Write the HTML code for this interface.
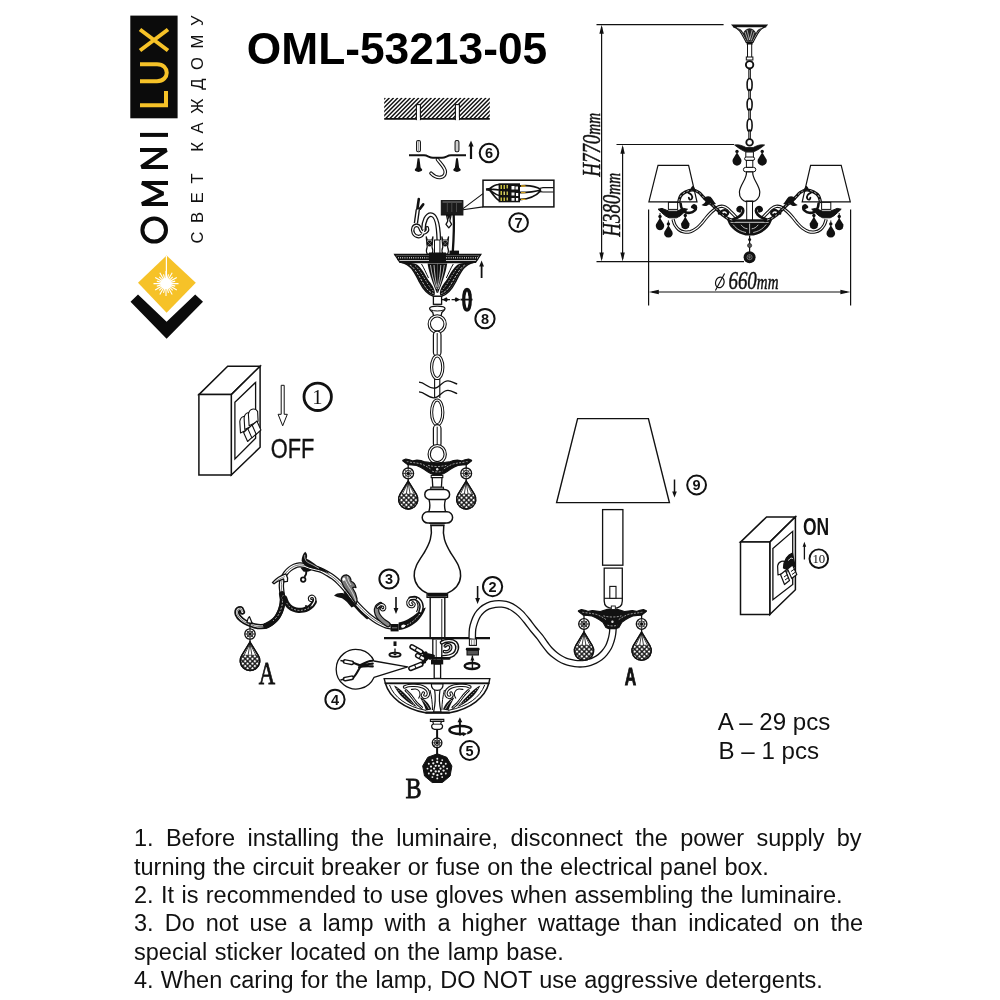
<!DOCTYPE html>
<html lang="en"><head><meta charset="utf-8"><title>OML-53213-05</title>
<style>
html,body{margin:0;padding:0;background:#fff;}
body{width:1000px;height:1000px;overflow:hidden;font-family:"Liberation Sans",sans-serif;}
svg{display:block;position:absolute;left:0;top:0;will-change:transform;}
svg text{white-space:pre;}
</style></head><body>
<svg width="1000" height="1000" viewBox="0 0 1000 1000">
<rect width="1000" height="1000" fill="#fff"/>
<defs>
<pattern id="hatch" width="3" height="3" patternUnits="userSpaceOnUse" patternTransform="rotate(45)">
<rect width="3" height="3" fill="#fff"/><rect width="1.45" height="3" fill="#111"/></pattern>
<pattern id="net" width="3.4" height="3.4" patternUnits="userSpaceOnUse" patternTransform="rotate(45)">
<rect width="3.4" height="3.4" fill="#111"/><rect x="0.7" y="0.7" width="2.1" height="2.1" fill="#fff"/></pattern>
<pattern id="net2" width="2.6" height="2.6" patternUnits="userSpaceOnUse" patternTransform="rotate(45)">
<rect width="2.6" height="2.6" fill="#222"/><rect x="0.7" y="0.7" width="1.5" height="1.5" fill="#eee"/></pattern>
<pattern id="rib" width="2" height="4" patternUnits="userSpaceOnUse">
<rect width="2" height="4" fill="#111"/><rect x="0.6" width="0.8" height="4" fill="#bbb"/></pattern>
</defs>
<rect x="130.3" y="15.6" width="47.3" height="102.7" fill="#0b0b0b"/>
<g fill="none" stroke="#F6C228" stroke-width="4.0" stroke-linecap="butt" stroke-linejoin="miter">
<path d="M140,105.3 H166 V91"/>
<path d="M140,81.2 H157 C170,81.2 170,64.2 157,64.2 H140"/>
<path d="M140,29.5 L168,50.5 M140,50.5 L168,29.5"/>
</g>
<g fill="none" stroke="#0b0b0b" stroke-width="4" stroke-linejoin="miter" stroke-miterlimit="2">
<path d="M140,134.9 H168"/>
<path d="M168,167 H141.5 L166.5,150 H140"/>
<path d="M168,204 H142 L163,193.5 L142,183 H168"/>
<ellipse cx="154.2" cy="230" rx="11.8" ry="11.6"/>
</g>
<text transform="translate(203,243.5) rotate(-90)" font-family="Liberation Sans, sans-serif" font-size="16.6" textLength="228" lengthAdjust="spacing" fill="#111">СВЕТ КАЖДОМУ</text>
<polygon points="166.6,255.5 195.8,282.8 166.6,312.7 138,282.8" fill="#F6C228"/>
<path d="M166.0,283.6 L178.5,283.6 M166.0,283.6 L175.2,286.1 M166.0,283.6 L176.8,289.9 M166.0,283.6 L172.7,290.3 M166.0,283.6 L172.2,294.4 M166.0,283.6 L168.5,292.8 M166.0,283.6 L166.0,296.1 M166.0,283.6 L163.5,292.8 M166.0,283.6 L159.8,294.4 M166.0,283.6 L159.3,290.3 M166.0,283.6 L155.2,289.9 M166.0,283.6 L156.8,286.1 M166.0,283.6 L153.5,283.6 M166.0,283.6 L156.8,281.1 M166.0,283.6 L155.2,277.4 M166.0,283.6 L159.3,276.9 M166.0,283.6 L159.8,272.8 M166.0,283.6 L163.5,274.4 M166.0,283.6 L166.0,271.1 M166.0,283.6 L168.5,274.4 M166.0,283.6 L172.2,272.8 M166.0,283.6 L172.7,276.9 M166.0,283.6 L176.8,277.4 M166.0,283.6 L175.2,281.1" stroke="#fff" stroke-width="1.1" fill="none"/>
<circle cx="166" cy="283.6" r="5.6" fill="#fff"/>
<path d="M166.4,256 V280" stroke="#fff" stroke-width="1.2"/>
<polygon points="130.5,301.7 138,294.5 166.6,321.8 195.2,294.5 203,301.7 166.6,338.7" fill="#0b0b0b"/>
<text x="246.800" y="64.200" font-family="Liberation Sans, sans-serif" font-weight="bold" font-size="44.300" fill="#000">OML-53213-05</text>
<clipPath id="ceilclip"><rect x="384.2" y="97.8" width="105.6" height="21.4"/></clipPath>
<path d="M364.20,118.9 L385.30,97.8 M368.40,118.9 L389.50,97.8 M372.60,118.9 L393.70,97.8 M376.80,118.9 L397.90,97.8 M381.00,118.9 L402.10,97.8 M385.20,118.9 L406.30,97.8 M389.40,118.9 L410.50,97.8 M393.60,118.9 L414.70,97.8 M397.80,118.9 L418.90,97.8 M402.00,118.9 L423.10,97.8 M406.20,118.9 L427.30,97.8 M410.40,118.9 L431.50,97.8 M414.60,118.9 L435.70,97.8 M418.80,118.9 L439.90,97.8 M423.00,118.9 L444.10,97.8 M427.20,118.9 L448.30,97.8 M431.40,118.9 L452.50,97.8 M435.60,118.9 L456.70,97.8 M439.80,118.9 L460.90,97.8 M444.00,118.9 L465.10,97.8 M448.20,118.9 L469.30,97.8 M452.40,118.9 L473.50,97.8 M456.60,118.9 L477.70,97.8 M460.80,118.9 L481.90,97.8 M465.00,118.9 L486.10,97.8 M469.20,118.9 L490.30,97.8 M473.40,118.9 L494.50,97.8 M477.60,118.9 L498.70,97.8 M481.80,118.9 L502.90,97.8 M486.00,118.9 L507.10,97.8" stroke="#111" stroke-width="1.45" fill="none" clip-path="url(#ceilclip)"/>
<rect x="416.4" y="104.6" width="4" height="15" fill="#fff" stroke="#111" stroke-width="1.1"/>
<rect x="416.9" y="117.6" width="3" height="3.2" fill="#fff"/>
<rect x="455.4" y="104.6" width="4" height="15" fill="#fff" stroke="#111" stroke-width="1.1"/>
<rect x="455.9" y="117.6" width="3" height="3.2" fill="#fff"/>
<path d="M384.2,118.9 H416.4 M420.4,118.9 H455.4 M459.4,118.900 H489.800" stroke="#111" stroke-width="1.600"/>
<path d="M409,155.3 H424 C428,155.3 429,157.8 433,157.8 H442 C446,157.8 447,155.3 451,155.3 H466" stroke="#111" stroke-width="1.9" fill="none"/>
<rect x="416.6" y="140.5" width="3.8" height="11.3" rx="1.5" fill="#fff" stroke="#111" stroke-width="1.1"/>
<path d="M418.5,140.8 V151.5" stroke="#777" stroke-width="0.7"/>
<path d="M417.6,158.3 H419.4 L420.6,167.6 L422.2,169.6 Q422.4,171.6 418.5,172 Q414.6,171.600 414.8,169.600 L416.4,167.600 Z" fill="#111"/>
<rect x="455.1" y="140.5" width="3.8" height="11.3" rx="1.5" fill="#fff" stroke="#111" stroke-width="1.1"/>
<path d="M457,140.8 V151.5" stroke="#777" stroke-width="0.7"/>
<path d="M456.1,158.3 H457.9 L459.1,167.6 L460.7,169.6 Q460.9,171.6 457,172 Q453.1,171.600 453.3,169.600 L454.9,167.600 Z" fill="#111"/>
<path d="M437.5,159.5 C440,163 445.5,168 445.3,172 C445,178.5 437,179.5 431,173.2" stroke="#111" stroke-width="3.6" fill="none" stroke-linecap="round"/>
<path d="M437.5,159.5 C440,163 445.5,168 445.3,172 C445,178.5 437,179.5 431,173.2" stroke="#fff" stroke-width="1.5" fill="none" stroke-linecap="round"/>
<path d="M471,159 V144.1" stroke="#111" stroke-width="2.2" fill="none"/><polygon points="471,140.5 468.4,146.5 473.6,146.5" fill="#111"/>
<circle cx="489" cy="153" r="9.3" fill="#fff" stroke="#111" stroke-width="2.0"/><text x="489" y="158.2" text-anchor="middle" font-family="Liberation Sans, sans-serif" font-weight="bold" font-size="14.5" fill="#111">6</text>
<rect x="483" y="180.200" width="70.900" height="26.700" fill="#fff" stroke="#111" stroke-width="1.500"/>
<path d="M486,189.5 L490,188.5 C494,185 497,184.5 499,184.5 M490,189.5 C494,189 497,189.5 499,190 M490,190.5 C494,196 497,199.5 499,200.5 M489,190 C493,192 496,195 499,195.5" stroke="#111" stroke-width="1.7" fill="none"/>
<path d="M486,188.6 L490.5,187.8 L490.5,191.3 L486,190.5 Z" fill="#111"/>
<rect x="498.6" y="183.3" width="21.4" height="19" fill="#111"/>
<rect x="500.5" y="185" width="1.5" height="4" fill="#c8c040"/>
<rect x="503.5" y="185" width="1.5" height="4" fill="#c8c040"/>
<rect x="506.5" y="185" width="1.5" height="3.5" fill="#bdb84a"/>
<rect x="500.5" y="191" width="1.5" height="4" fill="#c8c040"/>
<rect x="503.5" y="191.5" width="1.5" height="3.5" fill="#d8d070"/>
<rect x="506.5" y="191.5" width="1.5" height="3.5" fill="#bdb84a"/>
<rect x="500.5" y="197.5" width="1.5" height="3.5" fill="#c8c040"/>
<rect x="503.5" y="197.5" width="1.5" height="3.5" fill="#c8c040"/>
<rect x="506.5" y="197.5" width="1.5" height="3" fill="#bdb84a"/>
<rect x="511.5" y="186" width="3" height="3.5" fill="#fff"/>
<rect x="515.5" y="186.5" width="2.5" height="3" fill="#eee"/>
<rect x="511.5" y="192.5" width="3" height="3" fill="#eee"/>
<rect x="516" y="193" width="2.2" height="3" fill="#fff"/>
<rect x="511.5" y="198" width="3" height="2.8" fill="#eee"/>
<rect x="516" y="198" width="2.2" height="2.8" fill="#fff"/>
<path d="M520,186 C530,185 536,186.5 541,189.5 M520,192.5 C530,192.5 536,191.5 541,190 M520,199.5 C530,199 537,195 541,190.5" stroke="#111" stroke-width="1.8" fill="none"/>
<path d="M521,186 H525.5 M521,192.6 H525.5 M521,199.4 H525.5" stroke="#d9a520" stroke-width="1.4"/>
<path d="M540,188.3 L543,187.6 H553.5 M540,191.6 L543,192 H553.5" stroke="#111" stroke-width="1.1" fill="none"/>
<rect x="441.3" y="200.6" width="21.6" height="14.4" fill="#1a1a1a" stroke="#111" stroke-width="1"/>
<path d="M442.5,202 H461.8" stroke="#999" stroke-width="0.8"/>
<path d="M447.3,203 V212 M451.8,203 V212 M456.5,203 V212" stroke="#555" stroke-width="0.8"/>
<path d="M463,208.600 L483,193.600 M463,209.800 L483,206.900" stroke="#111" stroke-width="1.1" fill="none"/>
<circle cx="518.6" cy="222.5" r="9.3" fill="#fff" stroke="#111" stroke-width="2.0"/><text x="518.6" y="227.7" text-anchor="middle" font-family="Liberation Sans, sans-serif" font-weight="bold" font-size="14.5" fill="#111">7</text>
<path d="M446.6,215.4 H451 L449.8,221 L451.600,224.400 L448.800,227.800 L446,224.400 L447.800,221 Z" fill="#fff" stroke="#111" stroke-width="1.300" stroke-linejoin="round"/>
<path d="M447.200,216 H450.400 L448.800,220 Z" fill="#111"/>
<path d="M453.700,215 C454.300,228 453.600,240 452.800,251.400" stroke="#111" stroke-width="2.300" fill="none"/>
<path d="M418.8,199 L417.3,209.4 M423.2,204.4 L420,208.6" stroke="#111" stroke-width="2.6" fill="none" stroke-linecap="round"/>
<path d="M417.8,209.6 L415.9,223.4" stroke="#111" stroke-width="4.4" fill="none" stroke-linecap="butt" stroke-linejoin="round"/><path d="M417.8,209.6 L415.9,223.4" stroke="#fff" stroke-width="1.7" fill="none" stroke-linecap="butt" stroke-linejoin="round"/>
<path d="M424.2,226.500 C424.200,231 423,236.800 418.600,236.600 C413.500,236.400 411.600,231 413.200,227.600 C414.600,224.600 418.600,224.600 419.800,227.600 C420.800,230.500 422.500,233.500 425,232.600 C427.200,231.600 427.800,229.500 427.200,227.800" stroke="#111" stroke-width="3.6" fill="none" stroke-linecap="round" stroke-linejoin="round"/><path d="M424.2,226.500 C424.200,231 423,236.800 418.600,236.600 C413.500,236.400 411.600,231 413.200,227.600 C414.600,224.600 418.600,224.600 419.800,227.600 C420.800,230.500 422.500,233.500 425,232.600 C427.200,231.600 427.800,229.500 427.200,227.800" stroke="#fff" stroke-width="1.3" fill="none" stroke-linecap="round" stroke-linejoin="round"/>
<path d="M423.400,229.500 C423.600,221 426.800,214.600 430.800,214.600 C436.200,214.600 438.400,224 438.800,240" stroke="#111" stroke-width="4.8" fill="none" stroke-linecap="butt" stroke-linejoin="round"/><path d="M423.400,229.500 C423.600,221 426.800,214.600 430.800,214.600 C436.200,214.600 438.400,224 438.800,240" stroke="#fff" stroke-width="2.2" fill="none" stroke-linecap="butt" stroke-linejoin="round"/>
<path d="M426.20000000000005,236.5 L427.20000000000005,240 L432.0,240 L433.0,236.5 L432.0,247 Q433.6,251 432.0,254 H427.20000000000005 Q425.6,251 427.20000000000005,247 Z" fill="#fff" stroke="#111" stroke-width="1.2"/>
<circle cx="429.6" cy="243.600" r="2.900" fill="#111"/>
<path d="M427.40000000000003,241.4 L431.8,245.8 M431.8,241.4 L427.40000000000003,245.8" stroke="#888" stroke-width="0.6"/>
<path d="M441.8,236.5 L442.8,240 L447.59999999999997,240 L448.59999999999997,236.5 L447.59999999999997,247 Q449.2,251 447.59999999999997,254 H442.8 Q441.2,251 442.8,247 Z" fill="#fff" stroke="#111" stroke-width="1.2"/>
<circle cx="445.2" cy="243.600" r="2.900" fill="#111"/>
<path d="M443.0,241.4 L447.4,245.8 M447.4,241.4 L443.0,245.8" stroke="#888" stroke-width="0.6"/>
<rect x="434.5" y="240" width="5.4" height="15" fill="#fff" stroke="#111" stroke-width="1"/>
<rect x="449.5" y="250.6" width="9.5" height="3.8" fill="#111"/>
<path d="M394.7,254.4 H480.8 L475.6,262.4 H399.9 Z" fill="#fff" stroke="#111" stroke-width="1.3" stroke-linejoin="miter"/>
<path d="M394.7,254.9 H480.8" stroke="#111" stroke-width="1.8"/>
<rect x="397" y="256" width="81.500" height="3.400" fill="#111"/>
<path d="M398,257.700 H478" stroke="#fff" stroke-width="1.600" stroke-dasharray="0.700 1.500"/>
<path d="M397.6,259.6 H477.8" stroke="#111" stroke-width="1.1"/>
<path d="M399.5,261.6 H476" stroke="#111" stroke-width="1.4"/>
<rect x="429" y="252.5" width="17" height="10" fill="#111"/>
<path d="M401.5,262.4 C411,264 414.5,272 419.5,282 C423.5,290 428,295 434,296.5 H441 C447,295 451.500,290 455.500,282 C460.500,272 464,264 473.500,262.400 Z" fill="#fff" stroke="#111" stroke-width="1.5"/>
<path d="M404.5,263.2 C411.5,265 415.0,272 420.0,282 C424.0,290 428.5,294.6 434.5,295.6 C436.0,291 433.0,286 429.0,281 C425.0,275 422.0,268 417.0,264.5 C413.0,262.600 408.0,262.800 404.5,263.200 Z" fill="#111"/>
<path d="M410.0,265 C415.5,268.5 419.5,277 424.5,285.5 C427.0,289.5 430.0,292.500 433.5,293.500" stroke="#ccc" stroke-width="0.9" fill="none" stroke-dasharray="2.4 1.2"/>
<path d="M415.0,265.500 C420.0,270 424.0,278 428.5,285 C430.5,288 432.5,290 434.0,292" stroke="#ccc" stroke-width="0.8" fill="none" stroke-dasharray="1.6 1.4"/>
<path d="M427.6,263.4 C428.5,270 431.0,279 436.8,293 L437.4,293 L437.4,263.400 Z" fill="#111"/>
<path d="M430.5,265 C431.5,273 433.5,281 436.5,289 M434.0,265 C434.5,273 435.5,281 437.0,287" stroke="#ddd" stroke-width="0.800" fill="none"/>
<path d="M421.5,264 C424.0,268 426.0,273 428.5,278" stroke="#111" stroke-width="1" fill="none"/>
<path d="M470.3,263.2 C463.3,265 459.8,272 454.8,282 C450.8,290 446.3,294.6 440.3,295.6 C438.8,291 441.8,286 445.8,281 C449.8,275 452.8,268 457.8,264.5 C461.8,262.600 466.8,262.800 470.3,263.200 Z" fill="#111"/>
<path d="M464.8,265 C459.3,268.5 455.3,277 450.3,285.5 C447.8,289.5 444.8,292.500 441.3,293.500" stroke="#ccc" stroke-width="0.9" fill="none" stroke-dasharray="2.4 1.2"/>
<path d="M459.8,265.500 C454.8,270 450.8,278 446.3,285 C444.3,288 442.3,290 440.8,292" stroke="#ccc" stroke-width="0.8" fill="none" stroke-dasharray="1.6 1.4"/>
<path d="M447.2,263.4 C446.3,270 443.8,279 438.0,293 L437.4,293 L437.4,263.400 Z" fill="#111"/>
<path d="M444.3,265 C443.3,273 441.3,281 438.3,289 M440.8,265 C440.3,273 439.3,281 437.8,287" stroke="#ddd" stroke-width="0.800" fill="none"/>
<path d="M453.3,264 C450.8,268 448.8,273 446.3,278" stroke="#111" stroke-width="1" fill="none"/>
<path d="M481.6,278 V264.1" stroke="#111" stroke-width="1.8" fill="none"/><polygon points="481.6,260.5 479.20000000000005,266.5 484.0,266.5" fill="#111"/>
<rect x="433.4" y="296.3" width="8.2" height="8" fill="#fff" stroke="#111" stroke-width="1.3"/>
<path d="M429.600,308.600 C429.600,305.400 445,305.400 445,308.600 C445,310.600 442.600,311.200 441.800,312.600 L441,316.200 H433.600 L432.800,312.600 C432,311.200 429.600,310.600 429.600,308.600 Z" fill="#fff" stroke="#111" stroke-width="1.300"/>
<path d="M430.400,309.800 C434,311.400 440.600,311.400 444.200,309.800" stroke="#111" stroke-width="1" fill="none"/>
<path d="M442,299.6 H461" stroke="#111" stroke-width="1.4" stroke-dasharray="3.2 1.6"/>
<path d="M442.300,299.600 l4.200,-2.400 l1.600,2.400 l-1.600,2.400 Z M460,299.600 l-4.200,-2.400 l-1.600,2.400 l1.600,2.400 Z" fill="#111"/>
<ellipse cx="467" cy="299.8" rx="3.3" ry="10.4" fill="none" stroke="#111" stroke-width="3.2"/>
<path d="M460.5,299.6 H472.5" stroke="#111" stroke-width="1.8"/>
<path d="M468.5,292 l3,2.2 l-3.3,1.6 Z" fill="#111"/>
<circle cx="485" cy="318.7" r="9.6" fill="#fff" stroke="#111" stroke-width="2.0"/><text x="485" y="323.9" text-anchor="middle" font-family="Liberation Sans, sans-serif" font-weight="bold" font-size="14.5" fill="#111">8</text>
<ellipse cx="437.2" cy="324" rx="7.9" ry="8.1" fill="none" stroke="#111" stroke-width="3.4"/>
<ellipse cx="437.2" cy="324" rx="7.9" ry="8.1" fill="none" stroke="#fff" stroke-width="1.3"/>
<rect x="433.4" y="331.1" width="7.6" height="25" rx="3.8" fill="#fff" stroke="#111" stroke-width="1.2"/><path d="M437.2,333.1 V354.1" stroke="#111" stroke-width="1"/>
<ellipse cx="437.2" cy="367.2" rx="5.6" ry="11.3" fill="none" stroke="#111" stroke-width="3.2"/><ellipse cx="437.2" cy="367.2" rx="5.6" ry="11.3" fill="none" stroke="#fff" stroke-width="1.2"/>
<rect x="428" y="381.5" width="19" height="13" fill="#fff"/>
<path d="M434.59999999999997,379 V398 M439.8,379 V398" stroke="#111" stroke-width="1.1"/>
<path d="M419,382.2 C425,382.5 428,388.4 434,388.200 C440,388 442,380.600 448,380.800 C452,381 454,383.200 457.200,384" stroke="#111" stroke-width="1.300" fill="none"/>
<path d="M419,391.800 C425,392.100 428,398 434,397.800 C440,397.600 442,390.200 448,390.400 C452,390.600 454,392.800 457.200,393.600" stroke="#111" stroke-width="1.300" fill="none"/>
<ellipse cx="437.2" cy="412.4" rx="5.6" ry="12.4" fill="none" stroke="#111" stroke-width="3.2"/><ellipse cx="437.2" cy="412.4" rx="5.6" ry="12.4" fill="none" stroke="#fff" stroke-width="1.2"/>
<rect x="433.4" y="424.7" width="7.6" height="22.6" rx="3.8" fill="#fff" stroke="#111" stroke-width="1.2"/><path d="M437.2,426.7 V445.3" stroke="#111" stroke-width="1"/>
<ellipse cx="437.2" cy="454.2" rx="8" ry="8.6" fill="#fff" stroke="#111" stroke-width="3.4"/>
<ellipse cx="437.2" cy="454.2" rx="8" ry="8.6" fill="none" stroke="#fff" stroke-width="1.2"/>
<path d="M402.8,460.3 L405.8,459.1 L409.4,459.7 L412.9,460.9 L417.0,460.1 L421.0,460.5 L425.1,461.9 L429.1,462.3 L433.2,462.5 L437.2,462.9 L441.2,462.5 L445.3,462.3 L449.3,461.9 L453.4,460.5 L457.4,460.1 L461.5,460.9 L465.0,459.7 L468.6,459.1 L471.6,460.3 L471.6,460.9 L469.1,462.9 L466.5,464.7 L462.5,464.9 L457.8,465.5 L453.9,467.3 L450.4,469.3 L446.8,471.7 L443.8,473.4 L441.2,474.6 L437.2,474.6 L433.2,474.6 L430.6,473.4 L427.6,471.7 L424.0,469.3 L420.5,467.3 L416.6,465.5 L411.9,464.9 L407.9,464.7 L405.3,462.9 L402.8,460.9 Z" fill="#111" stroke="#111" stroke-width="1.1" stroke-linejoin="round"/>
<path d="M406.8,461.7 C410.9,462.5 416.0,462.7 421.0,463.90000000000003 C425.1,465.3 428.1,467.3 431.1,469.3 M467.6,461.7 C463.5,462.5 458.4,462.7 453.4,463.90000000000003 C449.3,465.3 446.3,467.3 443.3,469.3 M428.1,465.3 C433.2,466.90000000000003 441.2,466.90000000000003 446.3,465.3 M432.1,471.20000000000005 C435.2,472.20000000000005 439.2,472.20000000000005 442.3,471.20000000000005" stroke="#bbb" stroke-width="0.8" fill="none" stroke-dasharray="2 1.3"/>
<circle cx="437.2" cy="469.2" r="1.2" fill="#ddd"/>
<rect x="431.200" y="475.400" width="11.600" height="2.200" fill="#fff" stroke="#111" stroke-width="1.100"/>
<path d="M432.200,477.600 L432.800,487.400 H441.400 L442,477.600 Z" fill="#fff" stroke="#111" stroke-width="1.300"/>
<rect x="430.800" y="487.200" width="12.600" height="2" fill="#fff" stroke="#111" stroke-width="1.100"/>
<rect x="424.8" y="489.4" width="24.8" height="10" rx="5" fill="#fff" stroke="#111" stroke-width="1.5"/>
<path d="M429,499.6 H445.4 C444.4,503 444.4,508 445.6,511.6 H428.8 C430,508 430,503 429,499.6 Z" fill="#fff" stroke="#111" stroke-width="1.4"/>
<rect x="422.2" y="511.8" width="30.4" height="11.2" rx="5.6" fill="#fff" stroke="#111" stroke-width="1.5"/>
<path d="M429,523.4 H445.6 M430,525 H444.6" stroke="#111" stroke-width="1"/>
<path d="M431,525.4 C432.5,536 430,543 424,553 C418,562 413.8,568 414.2,576 C414.8,585 421,590.5 428,593.6 H446.6 C453.6,590.5 460.2,585 460.6,576 C461,568 456.8,562 450.8,553 C444.8,543 442.3,536 443.8,525.4 Z" fill="#fff" stroke="#111" stroke-width="1.5"/>
<path d="M427,594 H447.6 V597.4 H427 Z" fill="#fff" stroke="#111" stroke-width="1.2"/>
<path d="M429,595.7 H445.6" stroke="#111" stroke-width="0.8"/>
<rect x="430.2" y="597.4" width="14.6" height="41" fill="#fff" stroke="#111" stroke-width="1.4"/>
<path d="M427.4,595.2 H447.6" stroke="#111" stroke-width="2.6"/>
<path d="M441.8,599 V637" stroke="#111" stroke-width="0.9"/>
<path d="M408.2,462.0 V481" stroke="#111" stroke-width="1.3"/>
<circle cx="408.2" cy="473.4" r="5.4" fill="#fff" stroke="#111" stroke-width="1.3"/><path d="M402.8,473.4 H413.59999999999997 M408.2,468.0 V478.79999999999995 M404.38,469.58 L412.02,477.22 M404.38,477.22 L412.02,469.58" stroke="#111" stroke-width="0.75" fill="none"/><circle cx="408.2" cy="473.4" r="3.13" fill="none" stroke="#111" stroke-width="0.8"/><circle cx="408.2" cy="473.4" r="1.5" fill="#111"/>
<path d="M408.2,481 L416.39,494.39 A9.6,9.6 0 1 1 400.01,494.39 Z" fill="#fff" stroke="#111" stroke-width="1.3"/>
<path d="M398.70,498.44 A9.6,9.6 0 1 0 417.70,498.44 L415.11,493.45 L401.29,493.45 Z" fill="url(#net)"/>
<path d="M408.2,482.5 L402.25,494.12 M408.2,482.5 L406.28,494.12 M408.2,482.5 L410.12,494.12 M408.2,482.5 L414.15,494.12" stroke="#111" stroke-width="0.8" fill="none"/>
<path d="M408.2,481 L416.39,494.39 A9.6,9.6 0 1 1 400.01,494.39 Z" fill="none" stroke="#111" stroke-width="1.4"/>
<path d="M466.2,462.0 V481" stroke="#111" stroke-width="1.3"/>
<circle cx="466.2" cy="473.4" r="5.4" fill="#fff" stroke="#111" stroke-width="1.3"/><path d="M460.8,473.4 H471.59999999999997 M466.2,468.0 V478.79999999999995 M462.38,469.58 L470.02,477.22 M462.38,477.22 L470.02,469.58" stroke="#111" stroke-width="0.75" fill="none"/><circle cx="466.2" cy="473.4" r="3.13" fill="none" stroke="#111" stroke-width="0.8"/><circle cx="466.2" cy="473.4" r="1.5" fill="#111"/>
<path d="M466.2,481 L474.39,494.39 A9.6,9.6 0 1 1 458.01,494.39 Z" fill="#fff" stroke="#111" stroke-width="1.3"/>
<path d="M456.70,498.44 A9.6,9.6 0 1 0 475.70,498.44 L473.11,493.45 L459.29,493.45 Z" fill="url(#net)"/>
<path d="M466.2,482.5 L460.25,494.12 M466.2,482.5 L464.28,494.12 M466.2,482.5 L468.12,494.12 M466.2,482.5 L472.15,494.12" stroke="#111" stroke-width="0.8" fill="none"/>
<path d="M466.2,481 L474.39,494.39 A9.6,9.6 0 1 1 458.01,494.39 Z" fill="none" stroke="#111" stroke-width="1.4"/>
<path d="M384,638.2 H490" stroke="#111" stroke-width="2.2"/>
<rect x="432.8" y="639" width="9" height="21.5" fill="#fff" stroke="#111" stroke-width="1.3"/>
<path d="M436.2,640 V660" stroke="#111" stroke-width="0.9"/>
<rect x="434.2" y="664" width="6.4" height="14.4" fill="#fff" stroke="#111" stroke-width="1.3"/>
<rect x="431" y="660" width="12.2" height="4.4" fill="#111"/>
<path d="M441.8,642.6 C445,640.4 452,639.6 455.4,642.8 C458.4,646 457.4,651.6 453.6,654.400 C450.600,656.400 446.500,657 443,657" stroke="#111" stroke-width="4.2" fill="none" stroke-linecap="round"/>
<path d="M441.8,642.6 C445,640.4 452,639.6 455.4,642.8 C458.4,646 457.4,651.6 453.6,654.400 C450.600,656.400 446.500,657 443,657" stroke="#fff" stroke-width="1.3" fill="none" stroke-linecap="round"/>
<path d="M444.4,651.6 C447.4,652.400 451,650.400 450.800,647.200 C450.600,644.200 446.800,643.600 445.200,646" stroke="#111" stroke-width="3.4" fill="none" stroke-linecap="round"/>
<path d="M444.4,651.6 C447.4,652.400 451,650.400 450.800,647.200 C450.600,644.200 446.800,643.600 445.200,646" stroke="#fff" stroke-width="1" fill="none" stroke-linecap="round"/>
<path d="M429.800,658.400 H449.200" stroke="#111" stroke-width="2.600" stroke-linecap="round"/>
<path d="M433.400,656 L427,654.600 L421.400,652 M428,655.200 L424,658.600 M429,656.500 C426,659 423.500,662 421.200,664.400 M426,653 L423.500,657 L424.500,662" stroke="#111" stroke-width="3.200" fill="none" stroke-linejoin="round" stroke-linecap="round"/>
<path d="M412,646.8 L420.8,651.8" stroke="#111" stroke-width="5.400" stroke-linecap="round"/>
<path d="M412,646.8 L420.8,651.8" stroke="#fff" stroke-width="2.400" stroke-linecap="round"/>
<path d="M414.9,651.0 L417.0,647.1" stroke="#111" stroke-width="1.100"/>
<path d="M410.8,668.4 L420.8,664.4" stroke="#111" stroke-width="5.400" stroke-linecap="round"/>
<path d="M410.8,668.4 L420.8,664.4" stroke="#fff" stroke-width="2.400" stroke-linecap="round"/>
<path d="M416.1,668.6 L414.5,664.6" stroke="#111" stroke-width="1.100"/>
<path d="M417.6,655.6 L423,658.4" stroke="#111" stroke-width="5.400" stroke-linecap="round"/>
<path d="M417.6,655.6 L423,658.4" stroke="#fff" stroke-width="2.400" stroke-linecap="round"/>
<path d="M419.0,658.8 L421.0,654.9" stroke="#111" stroke-width="1.100"/>
<rect x="393.500" y="641.400" width="3" height="4.600" fill="#111"/>
<path d="M395,648.500 V654" stroke="#111" stroke-width="1.300"/>
<ellipse cx="395" cy="654.800" rx="5.600" ry="2.100" fill="#fff" stroke="#111" stroke-width="1.900"/>
<ellipse cx="395" cy="654.600" rx="1.600" ry="0.800" fill="#111"/>
<rect x="469.400" y="639" width="7" height="6.400" fill="#fff" stroke="#111" stroke-width="1.100"/>
<path d="M471.600,640 V645 M474.200,640 V645" stroke="#555" stroke-width="0.700"/>
<rect x="465.800" y="647.800" width="13.800" height="2.600" rx="1.200" fill="#111"/>
<rect x="467" y="650.400" width="11.400" height="4.600" fill="url(#rib)" stroke="#111" stroke-width="1"/>
<path d="M472.400,655.400 V669.500" stroke="#111" stroke-width="1.400"/>
<path d="M472.400,656 l-2,4.400 h4 Z" fill="#111"/>
<ellipse cx="472" cy="666" rx="7.400" ry="3" fill="none" stroke="#111" stroke-width="2.300"/>
<path d="M384.200,678.600 H489.800 L488.800,683.400 H385.400 Z" fill="#fff" stroke="#111" stroke-width="1.400"/>
<path d="M385.400,683.400 C389.500,697.500 404,708.500 425.500,712.800 H449.800 C471,708.500 485,697.500 488.800,683.400 Z" fill="#fff" stroke="#111" stroke-width="1.600"/>
<path d="M389.500,685 C394,697 406,706.500 426,710.400 M484.700,685 C480.200,697 468.200,706.500 448.200,710.400" stroke="#111" stroke-width="1" fill="none"/>
<path d="M394.0,685.400 C399.0,687.500 409.0,697 417.0,707 C408.0,703.500 398.5,695 394.0,685.400 Z" fill="#111"/>
<path d="M396.5,688 C402.0,694 408.0,700 414.5,705" stroke="#ccc" stroke-width="0.800" fill="none" stroke-dasharray="1.600 1.200"/>
<path d="M404.5,687.0 C405.2,686.8 406.9,685.9 408.5,685.6 C410.1,685.3 412.1,685.3 414.0,685.4 C415.9,685.5 418.2,685.6 420.0,686.0 C421.8,686.4 423.7,687.1 425.0,688.0 C426.3,688.9 427.5,690.2 428.0,691.5 C428.5,692.8 428.5,694.5 428.0,695.5 C427.5,696.5 425.9,697.5 425.0,697.5 C424.1,697.5 422.7,696.4 422.4,695.6 C422.1,694.9 423.2,693.4 423.4,693.0" stroke="#111" stroke-width="3.400" fill="none" stroke-linecap="round"/>
<path d="M404.5,687.0 C405.2,686.8 406.9,685.9 408.5,685.6 C410.1,685.3 412.1,685.3 414.0,685.4 C415.9,685.5 418.2,685.6 420.0,686.0 C421.8,686.4 423.7,687.1 425.0,688.0 C426.3,688.9 427.5,690.2 428.0,691.5 C428.5,692.8 428.5,694.5 428.0,695.5 C427.5,696.5 425.9,697.5 425.0,697.5 C424.1,697.5 422.7,696.4 422.4,695.6 C422.1,694.9 423.2,693.4 423.4,693.0" stroke="#fff" stroke-width="1.300" fill="none" stroke-linecap="round"/>
<path d="M406.0,690.5 C406.7,691.2 408.8,693.1 410.0,694.5 C411.2,695.9 412.3,697.5 413.5,699.0 C414.7,700.5 415.7,702.1 417.0,703.5 C418.3,704.9 420.8,706.8 421.5,707.5" stroke="#111" stroke-width="2.800" fill="none" stroke-linecap="round"/>
<path d="M406.0,690.5 C406.7,691.2 408.8,693.1 410.0,694.5 C411.2,695.9 412.3,697.5 413.5,699.0 C414.7,700.5 415.7,702.1 417.0,703.5 C418.3,704.9 420.8,706.8 421.5,707.5" stroke="#fff" stroke-width="1" fill="none" stroke-linecap="round"/>
<path d="M411.0,689.5 C411.8,689.4 414.2,688.8 415.5,689.0 C416.8,689.2 418.2,690.0 419.0,691.0 C419.8,692.0 420.1,693.8 420.0,695.0 C419.9,696.2 418.8,697.9 418.5,698.5" stroke="#111" stroke-width="1.100" fill="none"/>
<path d="M420.0,697.500 C424.0,698.500 429.0,703 431.5,709.500 L426.0,710.500 C424.5,705.500 422.0,701 420.0,697.500 Z" fill="#111"/>
<path d="M422.5,700 C425.5,703 427.5,706 429.0,709" stroke="#ccc" stroke-width="0.800" fill="none"/>
<path d="M430.0,690 C431.5,696 432.5,703 432.5,710" stroke="#111" stroke-width="1" fill="none"/>
<path d="M480.4,685.400 C475.4,687.500 465.4,697 457.4,707 C466.4,703.500 475.9,695 480.4,685.400 Z" fill="#111"/>
<path d="M477.9,688 C472.4,694 466.4,700 459.9,705" stroke="#ccc" stroke-width="0.800" fill="none" stroke-dasharray="1.600 1.200"/>
<path d="M469.9,687.0 C469.2,686.8 467.5,685.9 465.9,685.6 C464.3,685.3 462.3,685.3 460.4,685.4 C458.5,685.5 456.2,685.6 454.4,686.0 C452.6,686.4 450.7,687.1 449.4,688.0 C448.1,688.9 446.9,690.2 446.4,691.5 C445.9,692.8 445.9,694.5 446.4,695.5 C446.9,696.5 448.5,697.5 449.4,697.5 C450.3,697.5 451.7,696.4 452.0,695.6 C452.3,694.9 451.2,693.4 451.0,693.0" stroke="#111" stroke-width="3.400" fill="none" stroke-linecap="round"/>
<path d="M469.9,687.0 C469.2,686.8 467.5,685.9 465.9,685.6 C464.3,685.3 462.3,685.3 460.4,685.4 C458.5,685.5 456.2,685.6 454.4,686.0 C452.6,686.4 450.7,687.1 449.4,688.0 C448.1,688.9 446.9,690.2 446.4,691.5 C445.9,692.8 445.9,694.5 446.4,695.5 C446.9,696.5 448.5,697.5 449.4,697.5 C450.3,697.5 451.7,696.4 452.0,695.6 C452.3,694.9 451.2,693.4 451.0,693.0" stroke="#fff" stroke-width="1.300" fill="none" stroke-linecap="round"/>
<path d="M468.4,690.5 C467.7,691.2 465.6,693.1 464.4,694.5 C463.1,695.9 462.1,697.5 460.9,699.0 C459.7,700.5 458.7,702.1 457.4,703.5 C456.1,704.9 453.6,706.8 452.9,707.5" stroke="#111" stroke-width="2.800" fill="none" stroke-linecap="round"/>
<path d="M468.4,690.5 C467.7,691.2 465.6,693.1 464.4,694.5 C463.1,695.9 462.1,697.5 460.9,699.0 C459.7,700.5 458.7,702.1 457.4,703.5 C456.1,704.9 453.6,706.8 452.9,707.5" stroke="#fff" stroke-width="1" fill="none" stroke-linecap="round"/>
<path d="M463.4,689.5 C462.6,689.4 460.2,688.8 458.9,689.0 C457.6,689.2 456.1,690.0 455.4,691.0 C454.6,692.0 454.3,693.8 454.4,695.0 C454.5,696.2 455.6,697.9 455.9,698.5" stroke="#111" stroke-width="1.100" fill="none"/>
<path d="M454.4,697.500 C450.4,698.500 445.4,703 442.9,709.500 L448.4,710.500 C449.9,705.500 452.4,701 454.4,697.500 Z" fill="#111"/>
<path d="M451.9,700 C448.9,703 446.9,706 445.4,709" stroke="#ccc" stroke-width="0.800" fill="none"/>
<path d="M444.4,690 C442.9,696 441.9,703 441.9,710" stroke="#111" stroke-width="1" fill="none"/>
<path d="M434.600,689.500 C435.600,696 435.400,704 433.600,712 H441 C439.200,704 439,696 440,689.500 Z" fill="#fff" stroke="#111" stroke-width="1.200"/>
<path d="M431.400,684 H443 C443.400,688 441,690.400 437.200,690.400 C433.400,690.400 431,688 431.400,684 Z" fill="#fff" stroke="#111" stroke-width="1.200"/>
<path d="M425.500,712.600 H449.800" stroke="#111" stroke-width="2.200"/>
<path d="M430.4,719.4 H443.8 V721.4 H430.4 Z" fill="#fff" stroke="#111" stroke-width="1.1"/>
<path d="M432.8,721.4 L433.4,724 C431,724.6 430.8,728.6 434.6,729.4 H439.6 C443.400,728.600 443.200,724.600 440.800,724 L441.400,721.400 Z" fill="#fff" stroke="#111" stroke-width="1.200" stroke-linejoin="round"/>
<path d="M433.400,724.200 H440.800" stroke="#111" stroke-width="0.900"/>
<path d="M437.100,729.400 V755" stroke="#111" stroke-width="2"/>
<circle cx="437.1" cy="742.8" r="4.8" fill="#fff" stroke="#111" stroke-width="1.3"/><path d="M432.3,742.8 H441.90000000000003 M437.1,738.0 V747.5999999999999 M433.71,739.41 L440.49,746.19 M433.71,746.19 L440.49,739.41" stroke="#111" stroke-width="0.75" fill="none"/><circle cx="437.1" cy="742.8" r="2.78" fill="none" stroke="#111" stroke-width="0.8"/><circle cx="437.1" cy="742.8" r="1.5" fill="#111"/>
<polygon points="437.3,753.8 446.8,757.3 451.9,766.0 450.1,776.0 442.4,782.5 432.2,782.5 424.5,776.0 422.7,766.0 427.8,757.3" fill="#111" stroke="#111" stroke-width="1" stroke-linejoin="round"/>
<circle cx="440.5" cy="768.6" r="1.15" fill="#eee"/><circle cx="438.9" cy="771.4" r="1.15" fill="#eee"/><circle cx="435.7" cy="771.4" r="1.15" fill="#eee"/><circle cx="434.1" cy="768.6" r="1.15" fill="#eee"/><circle cx="435.7" cy="765.8" r="1.15" fill="#eee"/><circle cx="438.9" cy="765.8" r="1.15" fill="#eee"/><circle cx="443.6" cy="770.6" r="1.15" fill="#eee"/><circle cx="441.3" cy="773.9" r="1.15" fill="#eee"/><circle cx="437.4" cy="775.2" r="1.15" fill="#eee"/><circle cx="433.5" cy="774.0" r="1.15" fill="#eee"/><circle cx="431.1" cy="770.7" r="1.15" fill="#eee"/><circle cx="431.0" cy="766.6" r="1.15" fill="#eee"/><circle cx="433.3" cy="763.3" r="1.15" fill="#eee"/><circle cx="437.2" cy="762.0" r="1.15" fill="#eee"/><circle cx="441.1" cy="763.2" r="1.15" fill="#eee"/><circle cx="443.5" cy="766.5" r="1.15" fill="#eee"/><circle cx="447.1" cy="768.6" r="0.95" fill="#eee"/><circle cx="445.8" cy="773.5" r="0.95" fill="#eee"/><circle cx="442.2" cy="777.1" r="0.95" fill="#eee"/><circle cx="437.3" cy="778.4" r="0.95" fill="#eee"/><circle cx="432.4" cy="777.1" r="0.95" fill="#eee"/><circle cx="428.8" cy="773.5" r="0.95" fill="#eee"/><circle cx="427.5" cy="768.6" r="0.95" fill="#eee"/><circle cx="428.8" cy="763.7" r="0.95" fill="#eee"/><circle cx="432.4" cy="760.1" r="0.95" fill="#eee"/><circle cx="437.3" cy="758.8" r="0.95" fill="#eee"/><circle cx="442.2" cy="760.1" r="0.95" fill="#eee"/><circle cx="445.8" cy="763.7" r="0.95" fill="#eee"/>
<ellipse cx="460.4" cy="730" rx="11" ry="4" fill="none" stroke="#111" stroke-width="2.4"/>
<rect x="463" y="731.5" width="4.2" height="4.5" fill="#fff"/>
<path d="M462.6,732 l4.6,1.8 l-4.2,2.4 Z" fill="#111"/>
<path d="M459.9,720.5 V735.5" stroke="#111" stroke-width="2"/>
<path d="M459.9,717.2 l-2.4,5 h4.8 Z" fill="#111"/>
<circle cx="469.6" cy="750.5" r="9.4" fill="#fff" stroke="#111" stroke-width="2.0"/><text x="469.6" y="755.7" text-anchor="middle" font-family="Liberation Sans, sans-serif" font-weight="bold" font-size="14.5" fill="#111">5</text>
<path d="M242.4,612.0 C242.1,611.5 241.6,609.1 240.8,608.8 C240.0,608.5 238.2,609.0 237.6,610.0 C237.0,611.0 236.8,612.9 237.4,614.5 C238.0,616.1 239.7,618.1 241.4,619.6 C243.1,621.1 245.6,622.4 247.8,623.4 C250.0,624.4 252.3,625.3 254.5,625.8 C256.7,626.3 258.8,626.7 261.0,626.6 C263.2,626.5 265.5,626.2 267.5,625.4 C269.5,624.6 271.4,623.2 273.0,621.8 C274.6,620.4 276.2,618.7 277.4,617.0 C278.6,615.3 279.4,613.6 280.2,611.6 C281.0,609.6 281.6,607.1 282.0,605.0 C282.4,602.9 282.5,600.0 282.6,599.0" stroke="#111" stroke-width="5.4" fill="none" stroke-linecap="round" stroke-linejoin="round"/><path d="M242.4,612.0 C242.1,611.5 241.6,609.1 240.8,608.8 C240.0,608.5 238.2,609.0 237.6,610.0 C237.0,611.0 236.8,612.9 237.4,614.5 C238.0,616.1 239.7,618.1 241.4,619.6 C243.1,621.1 245.6,622.4 247.8,623.4 C250.0,624.4 252.3,625.3 254.5,625.8 C256.7,626.3 258.8,626.7 261.0,626.6 C263.2,626.5 265.5,626.2 267.5,625.4 C269.5,624.6 271.4,623.2 273.0,621.8 C274.6,620.4 276.2,618.7 277.4,617.0 C278.6,615.3 279.4,613.6 280.2,611.6 C281.0,609.6 281.6,607.1 282.0,605.0 C282.4,602.9 282.5,600.0 282.6,599.0" stroke="#fff" stroke-width="2.0" fill="none" stroke-linecap="round" stroke-linejoin="round"/><path d="M242.4,612.0 C242.1,611.5 241.6,609.1 240.8,608.8 C240.0,608.5 238.2,609.0 237.6,610.0 C237.0,611.0 236.8,612.9 237.4,614.5 C238.0,616.1 239.7,618.1 241.4,619.6 C243.1,621.1 245.6,622.4 247.8,623.4 C250.0,624.4 252.3,625.3 254.5,625.8 C256.7,626.3 258.8,626.7 261.0,626.6 C263.2,626.5 265.5,626.2 267.5,625.4 C269.5,624.6 271.4,623.2 273.0,621.8 C274.6,620.4 276.2,618.7 277.4,617.0 C278.6,615.3 279.4,613.6 280.2,611.6 C281.0,609.6 281.6,607.1 282.0,605.0 C282.4,602.9 282.5,600.0 282.6,599.0" stroke="#333" stroke-width="0.7" fill="none"/>
<path d="M282.6,599.0 C282.5,598.0 282.2,595.0 282.0,593.0 C281.8,591.0 281.5,588.8 281.4,587.0 C281.3,585.2 281.4,583.9 281.6,582.5 C281.8,581.1 282.1,579.9 282.8,578.4 C283.5,576.9 284.4,574.9 285.6,573.3 C286.8,571.7 288.3,570.2 289.8,569.0 C291.3,567.8 292.8,566.9 294.4,566.2 C296.0,565.5 297.7,565.0 299.4,564.9 C301.1,564.8 302.9,565.0 304.5,565.4 C306.1,565.8 307.2,566.5 309.0,567.0 C310.8,567.5 313.0,568.1 315.0,568.6 C317.0,569.1 319.0,569.4 321.0,570.2 C323.0,571.0 325.0,572.2 327.0,573.4 C329.0,574.6 331.0,575.7 333.0,577.2 C335.0,578.7 337.1,580.5 339.0,582.4 C340.9,584.3 342.7,586.2 344.5,588.4 C346.3,590.6 348.1,593.2 350.0,595.6 C351.9,598.0 354.0,600.7 356.0,603.0 C358.0,605.3 360.0,607.4 362.0,609.4 C364.0,611.4 366.0,613.3 368.0,615.0 C370.0,616.7 372.0,618.2 374.0,619.6 C376.0,621.0 378.0,622.2 380.0,623.2 C382.0,624.2 384.0,625.2 386.0,625.8 C388.0,626.4 391.0,626.8 392.0,627.0" stroke="#111" stroke-width="5.4" fill="none" stroke-linecap="round" stroke-linejoin="round"/><path d="M282.6,599.0 C282.5,598.0 282.2,595.0 282.0,593.0 C281.8,591.0 281.5,588.8 281.4,587.0 C281.3,585.2 281.4,583.9 281.6,582.5 C281.8,581.1 282.1,579.9 282.8,578.4 C283.5,576.9 284.4,574.9 285.6,573.3 C286.8,571.7 288.3,570.2 289.8,569.0 C291.3,567.8 292.8,566.9 294.4,566.2 C296.0,565.5 297.7,565.0 299.4,564.9 C301.1,564.8 302.9,565.0 304.5,565.4 C306.1,565.8 307.2,566.5 309.0,567.0 C310.8,567.5 313.0,568.1 315.0,568.6 C317.0,569.1 319.0,569.4 321.0,570.2 C323.0,571.0 325.0,572.2 327.0,573.4 C329.0,574.6 331.0,575.7 333.0,577.2 C335.0,578.7 337.1,580.5 339.0,582.4 C340.9,584.3 342.7,586.2 344.5,588.4 C346.3,590.6 348.1,593.2 350.0,595.6 C351.9,598.0 354.0,600.7 356.0,603.0 C358.0,605.3 360.0,607.4 362.0,609.4 C364.0,611.4 366.0,613.3 368.0,615.0 C370.0,616.7 372.0,618.2 374.0,619.6 C376.0,621.0 378.0,622.2 380.0,623.2 C382.0,624.2 384.0,625.2 386.0,625.8 C388.0,626.4 391.0,626.8 392.0,627.0" stroke="#fff" stroke-width="2.9" fill="none" stroke-linecap="round" stroke-linejoin="round"/><path d="M282.6,599.0 C282.5,598.0 282.2,595.0 282.0,593.0 C281.8,591.0 281.5,588.8 281.4,587.0 C281.3,585.2 281.4,583.9 281.6,582.5 C281.8,581.1 282.1,579.9 282.8,578.4 C283.5,576.9 284.4,574.9 285.6,573.3 C286.8,571.7 288.3,570.2 289.8,569.0 C291.3,567.8 292.8,566.9 294.4,566.2 C296.0,565.5 297.7,565.0 299.4,564.9 C301.1,564.8 302.9,565.0 304.5,565.4 C306.1,565.8 307.2,566.5 309.0,567.0 C310.8,567.5 313.0,568.1 315.0,568.6 C317.0,569.1 319.0,569.4 321.0,570.2 C323.0,571.0 325.0,572.2 327.0,573.4 C329.0,574.6 331.0,575.7 333.0,577.2 C335.0,578.7 337.1,580.5 339.0,582.4 C340.9,584.3 342.7,586.2 344.5,588.4 C346.3,590.6 348.1,593.2 350.0,595.6 C351.9,598.0 354.0,600.7 356.0,603.0 C358.0,605.3 360.0,607.4 362.0,609.4 C364.0,611.4 366.0,613.3 368.0,615.0 C370.0,616.7 372.0,618.2 374.0,619.6 C376.0,621.0 378.0,622.2 380.0,623.2 C382.0,624.2 384.0,625.2 386.0,625.8 C388.0,626.4 391.0,626.8 392.0,627.0" stroke="#333" stroke-width="0.7" fill="none"/>
<path d="M281.8,594.0 C282.0,595.0 282.8,598.0 282.8,600.0 C282.8,602.0 282.5,604.0 282.0,606.0 C281.5,608.0 280.9,610.0 280.0,612.0 C279.1,614.0 278.0,616.2 276.6,618.0 C275.2,619.8 273.3,621.3 271.5,622.6 C269.7,623.9 266.9,625.1 266.0,625.6" stroke="#111" stroke-width="5.8" fill="none" stroke-linecap="round"/>
<path d="M282.2,597.0 C282.2,598.0 282.6,601.0 282.4,603.0 C282.2,605.0 281.7,606.9 281.0,609.0 C280.3,611.1 279.3,613.5 278.0,615.5 C276.7,617.5 273.8,620.1 273.0,621.0" stroke="#bbb" stroke-width="0.9" fill="none" stroke-dasharray="2 1.6"/>
<ellipse cx="283.2" cy="597.8" rx="1.2" ry="2.6" fill="#fff"/>
<path d="M247,622.6 C247.4,619.6 248.4,617.4 249.4,616.6 C250.4,618.6 251,620.8 252.4,623.6 Z" fill="#fff" stroke="#111" stroke-width="1.2" stroke-linejoin="round"/>
<path d="M272.4,582.6 C276,578.4 280.5,575.4 285.8,573.8 L287.6,578 L287.4,581.4 L284,581.8 L283.6,578.8 C280,580 276.8,581.4 274,583.8 Z" fill="#fff" stroke="#111" stroke-width="1.3" stroke-linejoin="round"/>
<path d="M275.5,581.8 C278.5,579.4 281.5,577.6 285,576.6" stroke="#555" stroke-width="0.7" fill="none"/>
<path d="M301.6,560.8 C301.8,557.4 302.8,553.6 305.2,551.8 C307.4,553.6 307.6,556.6 306.6,558.8 C310,560.4 313.5,562.6 316.8,565.6 C321,567.4 326,570.6 330,574 C324,571.6 318,569.6 312.5,568.600 C307.500,567.600 303,565.400 301.600,560.800 Z" fill="#111"/>
<path d="M304.800,554.800 C304.400,557.600 305,560.200 307.400,562.200 C311,563.800 315,566 319,568.400" stroke="#ccc" stroke-width="0.8" fill="none"/>
<path d="M300.500,567.800 C303.500,566.800 308,568 311.500,570.200 C308.500,571.800 305.500,572.200 303.400,571.400 Z" fill="#111"/>
<path d="M306.200,571 C306.600,573.600 305.800,575.600 304.400,577" stroke="#111" stroke-width="1.8" fill="none"/>
<circle cx="303.200" cy="579.600" r="2.300" fill="#fff" stroke="#111" stroke-width="1.700"/>
<path d="M284.6,598.0 C284.9,598.8 285.8,601.5 286.6,603.0 C287.4,604.5 288.5,605.8 289.6,606.8 C290.8,607.8 292.0,608.6 293.5,609.2 C295.0,609.8 296.8,610.3 298.5,610.4 C300.2,610.5 301.9,610.3 303.5,610.0 C305.1,609.7 306.6,609.1 308.0,608.4 C309.4,607.7 310.8,606.7 311.8,605.6 C312.8,604.5 313.8,602.6 314.2,602.0" stroke="#111" stroke-width="5.2" fill="none" stroke-linecap="round" stroke-linejoin="round"/>
<path d="M311.8,605.6 C312.2,605.0 313.7,603.2 314.2,602.0 C314.7,600.8 314.9,599.5 314.6,598.6 C314.3,597.7 313.4,596.6 312.6,596.4 C311.8,596.2 310.5,596.6 310.0,597.2 C309.5,597.8 309.5,599.2 309.8,599.8 C310.1,600.4 311.3,600.5 311.6,600.6" stroke="#111" stroke-width="3.6" fill="none" stroke-linecap="round" stroke-linejoin="round"/><path d="M311.8,605.6 C312.2,605.0 313.7,603.2 314.2,602.0 C314.7,600.8 314.9,599.5 314.6,598.6 C314.3,597.7 313.4,596.6 312.6,596.4 C311.8,596.2 310.5,596.6 310.0,597.2 C309.5,597.8 309.5,599.2 309.8,599.8 C310.1,600.4 311.3,600.5 311.6,600.6" stroke="#fff" stroke-width="1.2" fill="none" stroke-linecap="round" stroke-linejoin="round"/>
<path d="M286.6,603.0 C287.1,603.6 288.5,605.8 289.6,606.8 C290.8,607.8 292.0,608.6 293.5,609.2 C295.0,609.8 296.8,610.3 298.5,610.4 C300.2,610.5 301.9,610.3 303.5,610.0 C305.1,609.7 306.6,609.1 308.0,608.4 C309.4,607.7 311.2,606.1 311.8,605.6" stroke="#bbb" stroke-width="0.900" fill="none" stroke-dasharray="1.800 1.600"/>
<circle cx="306" cy="606" r="1" fill="#111"/>
<path d="M341.400,581.400 C340.600,577.600 342.800,574.800 346.400,574.800 C349.400,575.600 351,578.400 351,581.200 C353.500,582.200 355.400,584.400 356,587.600 C354.600,587 353.400,587.200 352.600,588 C354.600,590.800 356.400,594.600 357,598.600 C357.200,601 356.800,603 356,604.400 C352.500,598.500 348.500,592.500 344.500,588 C343.500,586 342.400,583.800 341.400,581.400 Z" fill="#777" stroke="#111" stroke-width="1.200" stroke-linejoin="round"/>
<path d="M344.400,577.600 C345.600,581.500 347.800,585.500 350.600,589.500 C352.800,593 354.600,597 355.800,601 M347.500,576.500 C347.800,579.500 349,582.500 351,585" stroke="#eee" stroke-width="0.800" fill="none"/>
<ellipse cx="343.800" cy="579.200" rx="1.300" ry="1.700" fill="#fff"/>
<path d="M334,595.400 C336.500,593 340.500,592.400 344,593.400 C347.500,595.600 351,600.500 355,606 L351.500,607.500 C348.500,603.500 345.500,600 342,598.200 C339.500,597.200 336.500,597 334,595.400 Z" fill="#111"/>
<path d="M344.5,592.0 C345.4,593.2 348.1,597.0 350.0,599.5 C351.9,602.0 354.0,604.7 356.0,607.0 C358.0,609.3 360.0,611.5 362.0,613.4 C364.0,615.3 367.0,617.7 368.0,618.6" stroke="#111" stroke-width="2.600" fill="none"/>
<path d="M388.0,624.5 C387.1,623.8 384.1,621.9 382.5,620.5 C380.9,619.1 379.4,617.5 378.4,616.0 C377.4,614.5 376.8,612.9 376.6,611.4 C376.4,609.9 376.8,608.3 377.4,607.2 C378.0,606.1 379.9,605.2 380.4,604.8" stroke="#111" stroke-width="5.600" fill="none" stroke-linecap="round"/>
<path d="M388.0,624.5 C387.1,623.8 384.1,621.9 382.5,620.5 C380.9,619.1 379.4,617.5 378.4,616.0 C377.4,614.5 376.8,612.9 376.6,611.4 C376.4,609.9 376.8,608.3 377.4,607.2 C378.0,606.1 379.9,605.2 380.4,604.8" stroke="#888" stroke-width="3.200" fill="none" stroke-linecap="round"/>
<path d="M377.4,607.2 C377.9,606.8 379.3,605.1 380.4,604.8 C381.5,604.5 383.1,604.8 383.8,605.4 C384.5,606.0 385.0,607.4 384.8,608.2 C384.6,609.0 383.4,609.9 382.8,610.0 C382.2,610.1 381.5,609.0 381.2,608.8" stroke="#111" stroke-width="3.2" fill="none" stroke-linecap="round" stroke-linejoin="round"/><path d="M377.4,607.2 C377.9,606.8 379.3,605.1 380.4,604.8 C381.5,604.5 383.1,604.8 383.8,605.4 C384.5,606.0 385.0,607.4 384.8,608.2 C384.6,609.0 383.4,609.9 382.8,610.0 C382.2,610.1 381.5,609.0 381.2,608.8" stroke="#fff" stroke-width="1.1" fill="none" stroke-linecap="round" stroke-linejoin="round"/>
<rect x="390.600" y="624" width="8" height="7.400" fill="#111"/>
<path d="M392,627.800 H397.200" stroke="#999" stroke-width="0.800"/>
<path d="M398.600,622.500 C405,621.500 412,617.500 417.500,612.500 C420.500,610 423,608.500 425.800,607.600 C424.500,611.500 422.500,615.500 419,619.500 C413.500,625.500 406,629.500 398.600,630 Z" fill="#111"/>
<path d="M401.5,626.6 C402.4,626.3 405.2,625.8 407.0,625.0 C408.8,624.2 410.8,622.9 412.5,621.6 C414.2,620.3 415.7,618.8 417.0,617.4 C418.3,616.0 419.9,613.7 420.5,613.0" stroke="#ccc" stroke-width="1" fill="none" stroke-dasharray="1.500 1.500"/>
<ellipse cx="403.200" cy="626.200" rx="2" ry="1.500" fill="#fff" transform="rotate(-20 403.200 626.200)"/>
<path d="M420.5,611.5 C420.7,610.7 421.7,608.2 421.6,606.5 C421.5,604.8 421.0,602.9 420.0,601.5 C419.0,600.1 417.1,598.7 415.5,598.2 C413.9,597.7 411.3,598.5 410.5,598.6" stroke="#111" stroke-width="4.6" fill="none" stroke-linecap="round" stroke-linejoin="round"/><path d="M420.5,611.5 C420.7,610.7 421.7,608.2 421.6,606.5 C421.5,604.8 421.0,602.9 420.0,601.5 C419.0,600.1 417.1,598.7 415.5,598.2 C413.9,597.7 411.3,598.5 410.5,598.6" stroke="#fff" stroke-width="1.6" fill="none" stroke-linecap="round" stroke-linejoin="round"/>
<path d="M415.5,598.2 C414.7,598.3 411.8,598.0 410.5,598.6 C409.2,599.2 408.1,600.8 407.8,602.0 C407.6,603.2 408.2,605.0 409.0,605.8 C409.8,606.6 411.6,606.8 412.5,606.6 C413.4,606.4 414.1,605.0 414.2,604.4 C414.2,603.8 413.0,603.1 412.8,602.8" stroke="#111" stroke-width="3.2" fill="none" stroke-linecap="round" stroke-linejoin="round"/><path d="M415.5,598.2 C414.7,598.3 411.8,598.0 410.5,598.6 C409.2,599.2 408.1,600.8 407.8,602.0 C407.6,603.2 408.2,605.0 409.0,605.8 C409.8,606.6 411.6,606.8 412.5,606.6 C413.4,606.4 414.1,605.0 414.2,604.4 C414.2,603.8 413.0,603.1 412.8,602.8" stroke="#fff" stroke-width="1.1" fill="none" stroke-linecap="round" stroke-linejoin="round"/>
<path d="M416.500,612 C418.500,608.500 418.500,604.500 416.500,601.500" stroke="#111" stroke-width="1.200" fill="none"/>
<path d="M250,622.8 V642" stroke="#111" stroke-width="1.3"/>
<circle cx="250" cy="634" r="5.2" fill="#fff" stroke="#111" stroke-width="1.3"/><path d="M244.8,634 H255.2 M250,628.8 V639.2 M246.32,630.32 L253.68,637.68 M246.32,637.68 L253.68,630.32" stroke="#111" stroke-width="0.75" fill="none"/><circle cx="250" cy="634" r="3.02" fill="none" stroke="#111" stroke-width="0.8"/><circle cx="250" cy="634" r="1.5" fill="#111"/>
<path d="M250,642 L258.33,655.68 A9.75,9.75 0 1 1 241.67,655.68 Z" fill="#fff" stroke="#111" stroke-width="1.3"/>
<path d="M240.35,659.77 A9.75,9.75 0 1 0 259.65,659.77 L257.02,654.71 L242.98,654.71 Z" fill="url(#net)"/>
<path d="M250,643.5 L243.96,655.39 M250,643.5 L248.05,655.39 M250,643.5 L251.95,655.39 M250,643.5 L256.05,655.39" stroke="#111" stroke-width="0.8" fill="none"/>
<path d="M250,642 L258.33,655.68 A9.75,9.75 0 1 1 241.67,655.68 Z" fill="none" stroke="#111" stroke-width="1.4"/>
<circle cx="389" cy="579" r="9.6" fill="#fff" stroke="#111" stroke-width="2.0"/><text x="389" y="584.2" text-anchor="middle" font-family="Liberation Sans, sans-serif" font-weight="bold" font-size="14.5" fill="#111">3</text>
<path d="M396,597 V610.4" stroke="#111" stroke-width="1.6" fill="none"/><polygon points="396,614 393.6,608 398.4,608" fill="#111"/>
<text transform="translate(267,684.200) scale(0.72,1)" text-anchor="middle" font-family="Liberation Serif, serif" font-size="31.500" fill="#111" stroke="#111" stroke-width="0.8">A</text>
<text transform="translate(413.600,798) scale(0.82,1)" text-anchor="middle" font-family="Liberation Serif, serif" font-size="29.500" fill="#111" stroke="#111" stroke-width="0.8">B</text>
<path d="M407.6,666.8 L374,661 A19.800,19.800 0 1 0 374,677.400 Z" fill="#fff" stroke="#111" stroke-width="1.300" stroke-linejoin="round"/>
<path d="M352.400,662.800 C356,663.500 358,665 360,665.200 C364,663 368,661 372.600,660.800 M352.400,678 C356,676 357.500,671 360,667.500 C364,664.500 368,663.800 372.800,663.600 M359,667 C364,666 368,666.200 372.800,666.400" stroke="#111" stroke-width="2.100" fill="none" stroke-linecap="round"/>
<path d="M340.4,660.6 L352.6,663" stroke="#111" stroke-width="1.500"/>
<path d="M345.1,661.5 L351.8,662.8" stroke="#111" stroke-width="4.800" stroke-linecap="round"/>
<path d="M345.3,661.6 L351.6,662.8" stroke="#fff" stroke-width="2.100" stroke-linecap="round"/>
<path d="M340.4,680 L352.6,677.6" stroke="#111" stroke-width="1.500"/>
<path d="M345.1,679.1 L351.8,677.8" stroke="#111" stroke-width="4.800" stroke-linecap="round"/>
<path d="M345.3,679.0 L351.6,677.8" stroke="#fff" stroke-width="2.100" stroke-linecap="round"/>
<circle cx="335" cy="699.4" r="9.6" fill="#fff" stroke="#111" stroke-width="2.0"/><text x="335" y="704.6" text-anchor="middle" font-family="Liberation Sans, sans-serif" font-weight="bold" font-size="14.5" fill="#111">4</text>
<path d="M472.2,638.5 C472.3,636.9 472.2,631.8 472.6,629.0 C473.0,626.2 473.7,624.1 474.5,621.8 C475.3,619.5 476.4,617.0 477.6,615.0 C478.9,613.0 480.3,611.3 482.0,609.8 C483.7,608.3 485.8,607.0 488.0,606.0 C490.2,605.0 492.9,604.4 495.2,604.1 C497.5,603.8 499.8,603.8 502.0,604.0 C504.2,604.2 506.3,604.5 508.4,605.3 C510.5,606.1 512.5,607.2 514.5,608.6 C516.5,610.0 518.3,611.3 520.4,613.4 C522.5,615.5 524.8,618.3 527.0,621.0 C529.2,623.7 531.3,626.8 533.5,629.5 C535.7,632.2 538.1,634.8 540.0,637.2 C541.9,639.7 543.3,642.0 545.0,644.2 C546.7,646.4 548.3,648.7 550.0,650.5 C551.7,652.3 553.3,653.7 555.0,655.0 C556.7,656.3 558.3,657.5 560.0,658.5 C561.7,659.5 563.3,660.3 565.0,661.0 C566.7,661.7 568.3,662.2 570.0,662.6 C571.7,663.0 573.3,663.3 575.0,663.5 C576.7,663.7 578.3,663.8 580.0,663.8 C581.7,663.8 583.3,663.7 585.0,663.4 C586.7,663.1 588.3,662.7 590.0,662.2 C591.7,661.7 593.3,661.0 595.0,660.2 C596.7,659.4 598.4,658.4 600.0,657.2 C601.6,656.0 603.1,654.5 604.5,652.8 C605.9,651.1 607.4,649.0 608.5,647.0 C609.6,645.0 610.3,642.7 611.0,640.5 C611.7,638.3 612.2,636.0 612.5,634.0 C612.8,632.0 612.9,629.5 613.0,628.6" stroke="#111" stroke-width="7.700" fill="none"/>
<path d="M472.2,638.5 C472.3,636.9 472.2,631.8 472.6,629.0 C473.0,626.2 473.7,624.1 474.5,621.8 C475.3,619.5 476.4,617.0 477.6,615.0 C478.9,613.0 480.3,611.3 482.0,609.8 C483.7,608.3 485.8,607.0 488.0,606.0 C490.2,605.0 492.9,604.4 495.2,604.1 C497.5,603.8 499.8,603.8 502.0,604.0 C504.2,604.2 506.3,604.5 508.4,605.3 C510.5,606.1 512.5,607.2 514.5,608.6 C516.5,610.0 518.3,611.3 520.4,613.4 C522.5,615.5 524.8,618.3 527.0,621.0 C529.2,623.7 531.3,626.8 533.5,629.5 C535.7,632.2 538.1,634.8 540.0,637.2 C541.9,639.7 543.3,642.0 545.0,644.2 C546.7,646.4 548.3,648.7 550.0,650.5 C551.7,652.3 553.3,653.7 555.0,655.0 C556.7,656.3 558.3,657.5 560.0,658.5 C561.7,659.5 563.3,660.3 565.0,661.0 C566.7,661.7 568.3,662.2 570.0,662.6 C571.7,663.0 573.3,663.3 575.0,663.5 C576.7,663.7 578.3,663.8 580.0,663.8 C581.7,663.8 583.3,663.7 585.0,663.4 C586.7,663.1 588.3,662.7 590.0,662.2 C591.7,661.7 593.3,661.0 595.0,660.2 C596.7,659.4 598.4,658.4 600.0,657.2 C601.6,656.0 603.1,654.5 604.5,652.8 C605.9,651.1 607.4,649.0 608.5,647.0 C609.6,645.0 610.3,642.7 611.0,640.5 C611.7,638.3 612.2,636.0 612.5,634.0 C612.8,632.0 612.9,629.5 613.0,628.6" stroke="#fff" stroke-width="5.100" fill="none"/>
<path d="M477.6,586 V600.4" stroke="#111" stroke-width="1.6" fill="none"/><polygon points="477.6,604 475.20000000000005,598 480.0,598" fill="#111"/>
<circle cx="492.6" cy="586.6" r="9.6" fill="#fff" stroke="#111" stroke-width="2.0"/><text x="492.6" y="591.8" text-anchor="middle" font-family="Liberation Sans, sans-serif" font-weight="bold" font-size="14.5" fill="#111">2</text>
<path d="M578.4,610.8 L581.4,609.6 L584.9,610.2 L588.4,611.4 L592.4,610.6 L596.4,611.0 L600.4,611.6 L603.4,610.6 L607.4,609.4 L612.4,609.2 L617.4,609.4 L621.4,610.6 L624.4,611.6 L628.4,611.0 L632.4,610.6 L636.4,611.4 L639.9,610.2 L643.4,609.6 L646.4,610.8 L646.4,611.4 L643.9,613.4 L641.4,615.2 L637.4,615.4 L632.8,616.0 L628.9,617.8 L625.4,619.8 L621.9,622.2 L618.9,627.4 L616.4,628.6 L612.4,628.6 L608.4,628.6 L605.9,627.4 L602.9,622.2 L599.4,619.8 L595.9,617.8 L592.0,616.0 L587.4,615.4 L583.4,615.2 L580.9,613.4 L578.4,611.4 Z" fill="#111" stroke="#111" stroke-width="1.1" stroke-linejoin="round"/>
<path d="M582.4,612.1999999999999 C586.4,613.0 591.4,613.1999999999999 596.4,614.4 C600.4,615.8 603.4,617.8 606.4,619.8 M642.4,612.1999999999999 C638.4,613.0 633.4,613.1999999999999 628.4,614.4 C624.4,615.8 621.4,617.8 618.4,619.8 M603.4,615.8 C608.4,617.4 616.4,617.4 621.4,615.8 M607.4,625.2 C610.4,626.2 614.4,626.2 617.4,625.2" stroke="#bbb" stroke-width="0.8" fill="none" stroke-dasharray="2 1.3"/>
<circle cx="612.4" cy="621.8" r="1.2" fill="#ddd"/>
<path d="M604.200,568.200 H622.300 V601 C622.300,606 618.500,608.400 613.250,608.400 C608,608.400 604.200,606 604.200,601 Z" fill="#fff" stroke="#111" stroke-width="1.300"/>
<path d="M604.200,598.300 H622.300" stroke="#111" stroke-width="1.100"/>
<rect x="609.800" y="586.400" width="6.200" height="11.900" fill="#fff" stroke="#111" stroke-width="1.100"/>
<rect x="611.300" y="606" width="4" height="3.500" fill="#fff" stroke="#111" stroke-width="0.900"/>
<rect x="602.600" y="509.600" width="20.300" height="55.600" fill="#fff" stroke="#111" stroke-width="1.300"/>
<path d="M577.600,418.600 H648.400 L669.400,502.600 H556.600 Z" fill="#fff" stroke="#111" stroke-width="1.400" stroke-linejoin="miter"/>
<path d="M674.5,479.5 V493.9" stroke="#111" stroke-width="1.5" fill="none"/><polygon points="674.5,497.5 672.2,491.5 676.8,491.5" fill="#111"/>
<circle cx="696.6" cy="485" r="9.4" fill="#fff" stroke="#111" stroke-width="2.0"/><text x="696.6" y="490.2" text-anchor="middle" font-family="Liberation Sans, sans-serif" font-weight="bold" font-size="14.5" fill="#111">9</text>
<path d="M584,612.7 V632" stroke="#111" stroke-width="1.3"/>
<circle cx="584" cy="624" r="5.3" fill="#fff" stroke="#111" stroke-width="1.3"/><path d="M578.7,624 H589.3 M584,618.7 V629.3 M580.25,620.25 L587.75,627.75 M580.25,627.75 L587.75,620.25" stroke="#111" stroke-width="0.75" fill="none"/><circle cx="584" cy="624" r="3.07" fill="none" stroke="#111" stroke-width="0.8"/><circle cx="584" cy="624" r="1.5" fill="#111"/>
<path d="M584,632 L592.22,645.65 A9.6,9.6 0 1 1 575.78,645.65 Z" fill="#fff" stroke="#111" stroke-width="1.3"/>
<path d="M574.50,649.64 A9.6,9.6 0 1 0 593.50,649.64 L590.91,644.65 L577.09,644.65 Z" fill="url(#net)"/>
<path d="M584,633.5 L578.05,645.32 M584,633.5 L582.08,645.32 M584,633.5 L585.92,645.32 M584,633.5 L589.95,645.32" stroke="#111" stroke-width="0.8" fill="none"/>
<path d="M584,632 L592.22,645.65 A9.6,9.6 0 1 1 575.78,645.65 Z" fill="none" stroke="#111" stroke-width="1.4"/>
<path d="M641.6,612.7 V632" stroke="#111" stroke-width="1.3"/>
<circle cx="641.6" cy="624" r="5.3" fill="#fff" stroke="#111" stroke-width="1.3"/><path d="M636.3000000000001,624 H646.9 M641.6,618.7 V629.3 M637.85,620.25 L645.35,627.75 M637.85,627.75 L645.35,620.25" stroke="#111" stroke-width="0.75" fill="none"/><circle cx="641.6" cy="624" r="3.07" fill="none" stroke="#111" stroke-width="0.8"/><circle cx="641.6" cy="624" r="1.5" fill="#111"/>
<path d="M641.6,632 L649.82,645.65 A9.6,9.6 0 1 1 633.38,645.65 Z" fill="#fff" stroke="#111" stroke-width="1.3"/>
<path d="M632.10,649.64 A9.6,9.6 0 1 0 651.10,649.64 L648.51,644.65 L634.69,644.65 Z" fill="url(#net)"/>
<path d="M641.6,633.5 L635.65,645.32 M641.6,633.5 L639.68,645.32 M641.6,633.5 L643.52,645.32 M641.6,633.5 L647.55,645.32" stroke="#111" stroke-width="0.8" fill="none"/>
<path d="M641.6,632 L649.82,645.65 A9.6,9.6 0 1 1 633.38,645.65 Z" fill="none" stroke="#111" stroke-width="1.4"/>
<text transform="translate(630.400,684.600) scale(0.66,1)" text-anchor="middle" font-family="Liberation Sans, sans-serif" font-weight="bold" font-size="24" fill="#111" stroke="#111" stroke-width="0.9">A</text>
<g fill="#fff" stroke="#111" stroke-width="1.5" stroke-linejoin="miter">
<path d="M198.900,394.600 L227.700,366.200 H260.100 L231.300,394.600 Z"/>
<path d="M231.300,394.600 L260.100,366.200 V447.200 L231.300,475.100 Z"/>
<path d="M198.900,394.600 H231.300 V475.100 H198.900 Z"/>
<path d="M234.900,402.200 L255.600,382.400 V438.200 L234.900,458.900 Z" stroke-width="1.300"/>
</g>
<g fill="#fff" stroke="#111" stroke-width="1.100" stroke-linejoin="round">
<path d="M240.5,433.0 L239.8,421.5 C240.5,416.0 246.0,414.5 249.0,418.5 L249.5,428.5 Z"/>
<path d="M244.8,429.4 L244.1,417.9 C244.8,412.4 250.3,410.9 253.3,414.9 L253.8,424.9 Z"/>
<path d="M249.1,425.8 L248.4,414.3 C249.1,408.8 254.6,407.3 257.6,411.3 L258.1,421.3 Z"/>
<path d="M243.6,432.5 L248.3,428.2 L252.3,437.2 L247.6,441.5 Z"/>
<path d="M247.9,428.9 L252.6,424.6 L256.6,433.6 L251.9,437.9 Z"/>
<path d="M252.2,425.3 L256.9,421.0 L260.9,430.0 L256.2,434.3 Z"/>
</g>
<path d="M281.200,385.300 H284.200 V414.300 H287.300 L282.700,425.800 L278.100,414.300 H281.200 Z" fill="#fff" stroke="#111" stroke-width="1"/>
<circle cx="317.700" cy="396.800" r="13.700" fill="#fff" stroke="#111" stroke-width="2.800"/>
<text x="317.400" y="403.800" text-anchor="middle" font-family="Liberation Serif, serif" font-size="20.500" fill="#111">1</text>
<text x="270.800" y="458.300" font-family="Liberation Sans, sans-serif" font-size="27.200" textLength="43.600" lengthAdjust="spacingAndGlyphs" fill="#111" stroke="#111" stroke-width="0.35">OFF</text>
<g fill="#fff" stroke="#111" stroke-width="1.500" stroke-linejoin="miter">
<path d="M740.500,542.100 L766.600,516.900 H795.400 L769.800,542.100 Z"/>
<path d="M769.800,542.100 L795.400,516.900 V589.800 L769.800,614.600 Z"/>
<path d="M740.500,542.100 H769.800 V614.600 H740.500 Z"/>
<path d="M772.900,548.400 L792.700,531.300 V584.400 L772.900,599.700 Z" stroke-width="1.300"/>
</g>
<g fill="#fff" stroke="#111" stroke-width="1.200" stroke-linejoin="round">
<path d="M778,575 L777.600,566 C778.500,561 784,559.500 786.500,563 L787,572 Z"/>
<path d="M783.500,568 C783.500,560 788,554.500 792.500,553 L795,566 L790,571 Z" fill="#111"/>
<path d="M788.500,560.500 C790,558 792,557.500 793,559" stroke="#fff" fill="none" stroke-width="1"/>
<path d="M780.500,574.500 L785.500,570.500 L789.500,580.500 L784.500,584.500 Z"/>
<path d="M787.500,569 L792.500,565 L796.800,574.500 L791.800,578.500 Z"/>
<path d="M784,577 L787.500,574.500 M785,580 L788.500,577.500 M791,571.500 L794.500,569 M792,574.500 L795.500,572" stroke-width="1"/>
</g>
<text x="802.900" y="535" font-family="Liberation Sans, sans-serif" font-weight="bold" font-size="24" textLength="26.200" lengthAdjust="spacingAndGlyphs" fill="#111">ON</text>
<path d="M804.4,559.5 V544.8" stroke="#111" stroke-width="1.3" fill="none"/><polygon points="804.4,541.8 802.6,546.8 806.1999999999999,546.8" fill="#111"/>
<circle cx="818.800" cy="558.700" r="9.300" fill="#fff" stroke="#111" stroke-width="1.900"/>
<text x="818.800" y="563" text-anchor="middle" font-family="Liberation Serif, serif" font-size="12.800" fill="#111">10</text>
<text x="717.8" y="730" font-family="Liberation Sans, sans-serif" font-size="24.1" fill="#111">A – 29 pcs</text>
<text x="718.6" y="759" font-family="Liberation Sans, sans-serif" font-size="24.1" fill="#111">B – 1 pcs</text>
<text x="134" y="846.2" font-family="Liberation Sans, sans-serif" font-size="23.5" style="word-spacing:5.805px" fill="#111">1. Before installing the luminaire, disconnect the power supply by</text>
<text x="134" y="874.6" font-family="Liberation Sans, sans-serif" font-size="23.5" style="word-spacing:0.517px" fill="#111">turning the circuit breaker or fuse on the electrical panel box.</text>
<text x="134" y="903" font-family="Liberation Sans, sans-serif" font-size="23.5" style="word-spacing:0.846px" fill="#111">2. It is recommended to use gloves when assembling the luminaire.</text>
<text x="134" y="931.4" font-family="Liberation Sans, sans-serif" font-size="23.5" style="word-spacing:4.539px" fill="#111">3. Do not use a lamp with a higher wattage than indicated on the</text>
<text x="134" y="959.8" font-family="Liberation Sans, sans-serif" font-size="23.5" style="word-spacing:1.095px" fill="#111">special sticker located on the lamp base.</text>
<text x="134" y="988.2" font-family="Liberation Sans, sans-serif" font-size="23.5" style="word-spacing:0.741px" fill="#111">4. When caring for the lamp, DO NOT use aggressive detergents.</text>
<g stroke="#111" stroke-width="1.2" fill="none">
<path d="M596.5,24.6 H723.6"/>
<path d="M616.5,144.5 H734"/>
<path d="M596.5,261.6 H744"/>
<path d="M601.6,27 V259"/>
<path d="M622.6,147 V259"/>
<path d="M648.6,209.5 V305.5 M850.6,209.5 V305.5"/>
<path d="M652,292 H847"/>
</g>
<polygon points="601.6,24.8 603.8,33.8 599.4,33.8" fill="#111"/>
<polygon points="601.6,261.4 599.4,252.4 603.8,252.4" fill="#111"/>
<polygon points="622.6,144.8 624.8,153.8 620.4,153.8" fill="#111"/>
<polygon points="622.6,261.4 620.4,252.4 624.8,252.4" fill="#111"/>
<polygon points="648.8,292 658.8,289.8 658.8,294.2" fill="#111"/>
<polygon points="850.4,292 840.4,294.2 840.4,289.8" fill="#111"/>
<text transform="translate(600,176.8) rotate(-90) scale(0.73,1)" font-family="Liberation Serif, serif" font-style="italic" font-size="26" fill="#111" stroke="#111" stroke-width="0.45">H770<tspan font-size="20.5">mm</tspan></text>
<text transform="translate(619.6,236.8) rotate(-90) scale(0.73,1)" font-family="Liberation Serif, serif" font-style="italic" font-size="26" fill="#111" stroke="#111" stroke-width="0.45">H380<tspan font-size="20.5">mm</tspan></text>
<text transform="translate(728.4,289.4) scale(0.73,1)" font-family="Liberation Serif, serif" font-style="italic" font-size="26" fill="#111" stroke="#111" stroke-width="0.45">660<tspan font-size="20.5">mm</tspan></text>
<ellipse cx="719.8" cy="282.4" rx="4.2" ry="5.4" fill="none" stroke="#111" stroke-width="1.2" transform="rotate(18 719.8 282.4)"/>
<path d="M715.4,290.6 L724.6,273.6" stroke="#111" stroke-width="1.1"/>
<path d="M731,24.4 H768.2 L766.4,26.6 H732.8 Z" fill="#111"/>
<path d="M733,26.6 C740,28 742.5,36 746.2,42.4 H753 C756.7,36 759.200,28 766.200,26.600 Z" fill="#fff" stroke="#111" stroke-width="1.100"/>
<path d="M736.500,27.800 C741.500,30 744,37 746.800,41.800 H752.400 C755.200,37 757.700,30 762.700,27.800 C759,28.600 757,30 756,33 C755,30.500 752.500,28.500 749.600,28.300 C746.700,28.500 744.200,30.500 743.200,33 C742.200,30 740.200,28.600 736.500,27.800 Z" fill="#222"/>
<path d="M747,30 L749.600,40 L752.200,30 M745,32 L748,40.500 M754.200,32 L751.200,40.500" stroke="#ddd" stroke-width="0.700" fill="none"/>
<rect x="747.500" y="43" width="4.200" height="14.500" fill="#fff" stroke="#111" stroke-width="1"/>
<rect x="746.600" y="42.300" width="6" height="2.200" fill="#111"/>
<rect x="746.300" y="57" width="6.600" height="3" fill="#fff" stroke="#111" stroke-width="1"/>
<circle cx="749.6" cy="64.800" r="3.700" fill="#fff" stroke="#111" stroke-width="1.900"/>
<path d="M749.6,69 V79.5" stroke="#111" stroke-width="2.600" stroke-linecap="round"/>
<path d="M749.6,70 V78.5" stroke="#fff" stroke-width="0.600"/>
<ellipse cx="749.6" cy="84.75" rx="2.500" ry="6.25" fill="#fff" stroke="#111" stroke-width="1.600"/>
<path d="M749.6,90 V99.5" stroke="#111" stroke-width="2.600" stroke-linecap="round"/>
<path d="M749.6,91 V98.5" stroke="#fff" stroke-width="0.600"/>
<ellipse cx="749.6" cy="104.5" rx="2.500" ry="6.0" fill="#fff" stroke="#111" stroke-width="1.600"/>
<path d="M749.6,109.5 V120" stroke="#111" stroke-width="2.600" stroke-linecap="round"/>
<path d="M749.6,110.5 V119" stroke="#fff" stroke-width="0.600"/>
<ellipse cx="749.6" cy="125.25" rx="2.500" ry="6.25" fill="#fff" stroke="#111" stroke-width="1.600"/>
<path d="M749.6,130.5 V140" stroke="#111" stroke-width="2.600" stroke-linecap="round"/>
<path d="M749.6,131.5 V139" stroke="#fff" stroke-width="0.600"/>
<circle cx="749.6" cy="142.400" r="3.300" fill="#fff" stroke="#111" stroke-width="1.800"/>
<path d="M734.600,145 C739,144 743,146 746,147.500 H753.200 C756.200,146 760.200,144 764.600,145 C761,148 757,150.500 753.600,151.800 H745.600 C742.200,150.500 738.200,148 734.600,145 Z" fill="#111" stroke="#111" stroke-width="0.800"/>
<circle cx="737" cy="151.400" r="1.700" fill="#111"/>
<path d="M737,152.3 L741.2,159.2 A4.6,4.6 0 1 1 732.8,159.2 Z" fill="#111"/>
<circle cx="762.2" cy="151.400" r="1.700" fill="#111"/>
<path d="M762.2,152.3 L766.4,159.2 A4.6,4.6 0 1 1 758.0,159.2 Z" fill="#111"/>
<rect x="745.800" y="152" width="7.600" height="6" fill="#fff" stroke="#111" stroke-width="1"/>
<rect x="744.600" y="157" width="10" height="3.400" rx="1.700" fill="#fff" stroke="#111" stroke-width="1"/>
<rect x="746.400" y="160.400" width="6.400" height="7" fill="#fff" stroke="#111" stroke-width="1"/>
<rect x="743.400" y="167.400" width="12.400" height="4.400" rx="2.200" fill="#fff" stroke="#111" stroke-width="1"/>
<path d="M746.400,171.800 C747.400,178.500 740,184.500 739.400,192 C739,198 743.500,201.200 746,201.600 H753.200 C755.700,201.200 760.200,198 759.800,192 C759.200,184.500 751.800,178.500 752.800,171.800 Z" fill="#fff" stroke="#111" stroke-width="1.200"/>
<rect x="746.700" y="201.500" width="5.800" height="19" fill="#fff" stroke="#111" stroke-width="1"/>
<path d="M745.800,201.200 H753.400" stroke="#111" stroke-width="1.600"/>
<path d="M726.800,219.200 H772.400 L771.600,221 C769,228.500 762,233.500 753.600,235.400 H745.600 C737.200,233.500 730.200,228.500 727.600,221 Z" fill="#111"/>
<path d="M730.500,222.300 H768.700" stroke="#fff" stroke-width="0.800"/>
<path d="M733,224.500 C737,229.500 741,231.500 746,232.500 M766.200,224.500 C762.200,229.500 758.200,231.500 753.200,232.500 M741,224.800 C743,227.500 745,228.500 747.500,228.800 M758.200,224.800 C756.200,227.500 754.200,228.500 751.700,228.800 M749.600,223.500 V233.500" stroke="#ddd" stroke-width="0.800" fill="none"/>
<path d="M749.6,235.400 V252" stroke="#111" stroke-width="1.200"/>
<circle cx="749.6" cy="239.500" r="1.500" fill="#111"/>
<circle cx="749.6" cy="245.500" r="2.100" fill="#555" stroke="#111" stroke-width="0.600"/>
<circle cx="749.6" cy="257.200" r="6" fill="#111"/>
<circle cx="749.6" cy="257.200" r="2.600" fill="none" stroke="#888" stroke-width="0.700"/>
<path d="M747.300,255.900 L751.900,258.500 M751.900,255.900 L747.300,258.500 M749.6,254.500 V259.900" stroke="#888" stroke-width="0.500"/>
<path d="M658.0,165.4 L688.6,165.4 L697.0,201.9 L648.9,201.9 Z" fill="#fff" stroke="#111" stroke-width="1.2" stroke-linejoin="miter"/>
<path d="M673.0,219.3 C673.3,220.2 674.0,223.3 675.0,225.0 C676.0,226.7 677.3,228.4 678.8,229.6 C680.3,230.8 682.0,231.6 684.0,231.9 C686.0,232.2 688.3,232.2 690.5,231.6 C692.7,230.9 695.1,229.4 697.0,228.0 C698.9,226.6 700.5,224.7 702.0,223.0 C703.5,221.3 704.6,219.7 706.0,218.0 C707.4,216.3 709.0,214.5 710.5,213.0 C712.0,211.5 713.8,210.1 715.2,209.0 C716.6,207.9 717.7,207.1 719.0,206.7 C720.3,206.3 721.6,206.1 723.0,206.4 C724.4,206.7 726.2,207.6 727.5,208.5 C728.8,209.4 729.9,210.9 731.0,212.0 C732.1,213.1 733.0,214.0 734.0,215.0 C735.0,216.0 736.5,217.5 737.0,218.0" stroke="#111" stroke-width="3.3" fill="none"/>
<path d="M673.0,219.3 C673.3,220.2 674.0,223.3 675.0,225.0 C676.0,226.7 677.3,228.4 678.8,229.6 C680.3,230.8 682.0,231.6 684.0,231.9 C686.0,232.2 688.3,232.2 690.5,231.6 C692.7,230.9 695.1,229.4 697.0,228.0 C698.9,226.6 700.5,224.7 702.0,223.0 C703.5,221.3 704.6,219.7 706.0,218.0 C707.4,216.3 709.0,214.5 710.5,213.0 C712.0,211.5 713.8,210.1 715.2,209.0 C716.6,207.9 717.7,207.1 719.0,206.7 C720.3,206.3 721.6,206.1 723.0,206.4 C724.4,206.7 726.2,207.6 727.5,208.5 C728.8,209.4 729.9,210.9 731.0,212.0 C732.1,213.1 733.0,214.0 734.0,215.0 C735.0,216.0 736.5,217.5 737.0,218.0" stroke="#fff" stroke-width="1.2" fill="none"/>
<path d="M678.8,201.5 C679.1,200.6 679.5,197.6 680.6,196.0 C681.7,194.4 683.5,193.0 685.5,192.0 C687.5,191.0 690.2,189.9 692.5,190.0 C694.8,190.1 697.2,191.3 699.0,192.5 C700.8,193.7 702.0,195.7 703.5,197.2 C705.0,198.7 706.5,200.3 708.0,201.6 C709.5,202.9 710.9,203.7 712.6,205.2 C714.3,206.7 716.3,208.8 718.0,210.5 C719.7,212.2 721.3,213.8 723.0,215.2 C724.7,216.5 726.2,217.7 728.0,218.6 C729.8,219.5 733.0,220.3 734.0,220.6" stroke="#111" stroke-width="3.2" fill="none" stroke-linecap="round"/>
<path d="M678.8,201.5 C679.1,200.6 679.5,197.6 680.6,196.0 C681.7,194.4 683.5,193.0 685.5,192.0 C687.5,191.0 690.2,189.9 692.5,190.0 C694.8,190.1 697.2,191.3 699.0,192.5 C700.8,193.7 702.0,195.7 703.5,197.2 C705.0,198.7 706.5,200.3 708.0,201.6 C709.5,202.9 710.9,203.7 712.6,205.2 C714.3,206.7 716.3,208.8 718.0,210.5 C719.7,212.2 721.3,213.8 723.0,215.2 C724.7,216.5 726.2,217.7 728.0,218.6 C729.8,219.5 733.0,220.3 734.0,220.6" stroke="#fff" stroke-width="0.7" fill="none" stroke-dasharray="2.5 2"/>
<path d="M680.6,203.5 C680.8,204.2 680.9,206.6 681.6,208.0 C682.3,209.4 683.6,211.0 685.0,211.8 C686.4,212.6 688.4,213.0 690.0,212.8 C691.6,212.6 693.6,211.5 694.6,210.6 C695.6,209.7 696.1,208.3 696.0,207.4 C695.9,206.5 694.6,205.5 694.0,205.4 C693.4,205.3 692.5,206.7 692.2,207.0" stroke="#111" stroke-width="2.6" fill="none" stroke-linecap="round"/>
<circle cx="694.6" cy="207.2" r="2.300" fill="#111"/>
<path d="M688.0,192.5 C688.6,192.9 690.8,194.0 691.5,195.0 C692.2,196.0 692.3,197.7 692.0,198.5 C691.7,199.3 690.3,199.7 689.8,199.6 C689.3,199.5 689.0,198.1 688.8,197.8" stroke="#111" stroke-width="1.800" fill="none" stroke-linecap="round"/>
<path d="M690.5,190.5 C690.5,188 691.5,186.400 693.0,185.800 C694.5,187.500 695.0,189.500 697.0,191.500 Z" fill="#111"/>
<path d="M703.5,199.600 C704.5,196.500 708.0,195.400 710.5,196.800 C712.5,198.500 713.5,201.500 716.0,204 C713.5,204.600 711.5,204.200 710.0,203.200 C708.0,206.200 704.5,206.800 701.5,205 C704.0,204 705.5,202.400 706.0,200.600 Z" fill="#111"/>
<path d="M719.0,213.5 C719.6,213.0 721.2,211.0 722.5,210.5 C723.8,210.0 725.6,210.1 726.5,210.6 C727.4,211.1 728.1,212.6 728.0,213.4 C727.9,214.2 726.6,215.3 726.0,215.4 C725.4,215.5 724.8,214.2 724.5,214.0" stroke="#111" stroke-width="2.400" fill="none" stroke-linecap="round"/>
<path d="M733.5,219.0 C734.2,218.8 736.2,218.2 737.5,217.5 C738.8,216.8 740.5,215.6 741.5,214.5 C742.5,213.4 743.2,212.0 743.2,210.8 C743.2,209.7 742.4,208.1 741.6,207.6 C740.8,207.1 739.0,207.3 738.4,207.8 C737.8,208.3 737.6,209.8 737.8,210.4 C738.0,211.0 739.5,211.1 739.8,211.2" stroke="#111" stroke-width="2.800" fill="none" stroke-linecap="round"/>
<circle cx="739.4" cy="209.600" r="2.100" fill="#111"/>
<rect x="668.4" y="202.400" width="9.200" height="7" fill="#fff" stroke="#111" stroke-width="1"/>
<path d="M658.0,209.2 L662.0,208.4 L666.0,210.0 L669.0,211.2 L676.5,211.2 L679.5,210.0 L683.5,208.4 L687.5,209.2 L684.0,212.5 L680.0,216.0 L676.5,217.8 L669.0,217.8 L665.5,216.0 L661.5,212.5 Z" fill="#111" stroke="#111" stroke-width="1" stroke-linejoin="round"/>
<circle cx="660.0" cy="216.5" r="1.700" fill="#111"/>
<path d="M660.0,213 V220" stroke="#111" stroke-width="0.900"/>
<path d="M660,217.8 L664.0,224.3 A4.3,4.3 0 1 1 656.0,224.3 Z" fill="#111"/>
<circle cx="685.3" cy="215.5" r="1.700" fill="#111"/>
<path d="M685.3,212 V219" stroke="#111" stroke-width="0.900"/>
<path d="M685.3,216.8 L689.3,223.3 A4.3,4.3 0 1 1 681.3,223.3 Z" fill="#111"/>
<circle cx="668.4" cy="223.9" r="1.700" fill="#111"/>
<path d="M668.4,220.4 V227.4" stroke="#111" stroke-width="0.900"/>
<path d="M668.4,225.2 L672.4,231.7 A4.3,4.3 0 1 1 664.4,231.7 Z" fill="#111"/>
<path d="M841.2,165.4 L810.6,165.4 L802.2,201.9 L850.3,201.9 Z" fill="#fff" stroke="#111" stroke-width="1.2" stroke-linejoin="miter"/>
<path d="M826.2,219.3 C825.9,220.2 825.2,223.3 824.2,225.0 C823.2,226.7 821.9,228.4 820.4,229.6 C818.9,230.8 817.2,231.6 815.2,231.9 C813.2,232.2 810.9,232.2 808.7,231.6 C806.5,230.9 804.1,229.4 802.2,228.0 C800.3,226.6 798.7,224.7 797.2,223.0 C795.7,221.3 794.6,219.7 793.2,218.0 C791.8,216.3 790.2,214.5 788.7,213.0 C787.2,211.5 785.4,210.1 784.0,209.0 C782.6,207.9 781.5,207.1 780.2,206.7 C778.9,206.3 777.6,206.1 776.2,206.4 C774.8,206.7 773.0,207.6 771.7,208.5 C770.4,209.4 769.3,210.9 768.2,212.0 C767.1,213.1 766.2,214.0 765.2,215.0 C764.2,216.0 762.7,217.5 762.2,218.0" stroke="#111" stroke-width="3.3" fill="none"/>
<path d="M826.2,219.3 C825.9,220.2 825.2,223.3 824.2,225.0 C823.2,226.7 821.9,228.4 820.4,229.6 C818.9,230.8 817.2,231.6 815.2,231.9 C813.2,232.2 810.9,232.2 808.7,231.6 C806.5,230.9 804.1,229.4 802.2,228.0 C800.3,226.6 798.7,224.7 797.2,223.0 C795.7,221.3 794.6,219.7 793.2,218.0 C791.8,216.3 790.2,214.5 788.7,213.0 C787.2,211.5 785.4,210.1 784.0,209.0 C782.6,207.9 781.5,207.1 780.2,206.7 C778.9,206.3 777.6,206.1 776.2,206.4 C774.8,206.7 773.0,207.6 771.7,208.5 C770.4,209.4 769.3,210.9 768.2,212.0 C767.1,213.1 766.2,214.0 765.2,215.0 C764.2,216.0 762.7,217.5 762.2,218.0" stroke="#fff" stroke-width="1.2" fill="none"/>
<path d="M820.4,201.5 C820.1,200.6 819.7,197.6 818.6,196.0 C817.5,194.4 815.7,193.0 813.7,192.0 C811.7,191.0 809.0,189.9 806.7,190.0 C804.5,190.1 802.0,191.3 800.2,192.5 C798.4,193.7 797.2,195.7 795.7,197.2 C794.2,198.7 792.7,200.3 791.2,201.6 C789.7,202.9 788.3,203.7 786.6,205.2 C784.9,206.7 782.9,208.8 781.2,210.5 C779.5,212.2 777.9,213.8 776.2,215.2 C774.5,216.5 773.0,217.7 771.2,218.6 C769.4,219.5 766.2,220.3 765.2,220.6" stroke="#111" stroke-width="3.2" fill="none" stroke-linecap="round"/>
<path d="M820.4,201.5 C820.1,200.6 819.7,197.6 818.6,196.0 C817.5,194.4 815.7,193.0 813.7,192.0 C811.7,191.0 809.0,189.9 806.7,190.0 C804.5,190.1 802.0,191.3 800.2,192.5 C798.4,193.7 797.2,195.7 795.7,197.2 C794.2,198.7 792.7,200.3 791.2,201.6 C789.7,202.9 788.3,203.7 786.6,205.2 C784.9,206.7 782.9,208.8 781.2,210.5 C779.5,212.2 777.9,213.8 776.2,215.2 C774.5,216.5 773.0,217.7 771.2,218.6 C769.4,219.5 766.2,220.3 765.2,220.6" stroke="#fff" stroke-width="0.7" fill="none" stroke-dasharray="2.5 2"/>
<path d="M818.6,203.5 C818.4,204.2 818.3,206.6 817.6,208.0 C816.9,209.4 815.6,211.0 814.2,211.8 C812.8,212.6 810.8,213.0 809.2,212.8 C807.6,212.6 805.6,211.5 804.6,210.6 C803.6,209.7 803.1,208.3 803.2,207.4 C803.3,206.5 804.6,205.5 805.2,205.4 C805.8,205.3 806.7,206.7 807.0,207.0" stroke="#111" stroke-width="2.6" fill="none" stroke-linecap="round"/>
<circle cx="804.6" cy="207.2" r="2.300" fill="#111"/>
<path d="M811.2,192.5 C810.6,192.9 808.4,194.0 807.7,195.0 C807.0,196.0 806.9,197.7 807.2,198.5 C807.5,199.3 808.9,199.7 809.4,199.6 C809.9,199.5 810.2,198.1 810.4,197.8" stroke="#111" stroke-width="1.800" fill="none" stroke-linecap="round"/>
<path d="M808.7,190.5 C808.7,188 807.7,186.400 806.2,185.800 C804.7,187.500 804.2,189.500 802.2,191.500 Z" fill="#111"/>
<path d="M795.7,199.600 C794.7,196.500 791.2,195.400 788.7,196.800 C786.7,198.500 785.7,201.500 783.2,204 C785.7,204.600 787.7,204.200 789.2,203.200 C791.2,206.200 794.7,206.800 797.7,205 C795.2,204 793.7,202.400 793.2,200.600 Z" fill="#111"/>
<path d="M780.2,213.5 C779.6,213.0 778.0,211.0 776.7,210.5 C775.5,210.0 773.6,210.1 772.7,210.6 C771.8,211.1 771.1,212.6 771.2,213.4 C771.3,214.2 772.6,215.3 773.2,215.4 C773.8,215.5 774.5,214.2 774.7,214.0" stroke="#111" stroke-width="2.400" fill="none" stroke-linecap="round"/>
<path d="M765.7,219.0 C765.0,218.8 763.0,218.2 761.7,217.5 C760.4,216.8 758.7,215.6 757.7,214.5 C756.8,213.4 756.0,212.0 756.0,210.8 C756.0,209.7 756.8,208.1 757.6,207.6 C758.4,207.1 760.2,207.3 760.8,207.8 C761.4,208.3 761.6,209.8 761.4,210.4 C761.2,211.0 759.7,211.1 759.4,211.2" stroke="#111" stroke-width="2.800" fill="none" stroke-linecap="round"/>
<circle cx="759.8" cy="209.600" r="2.100" fill="#111"/>
<rect x="821.6" y="202.400" width="9.200" height="7" fill="#fff" stroke="#111" stroke-width="1"/>
<path d="M841.2,209.2 L837.2,208.4 L833.2,210.0 L830.2,211.2 L822.7,211.2 L819.7,210.0 L815.7,208.4 L811.7,209.2 L815.2,212.5 L819.2,216.0 L822.7,217.8 L830.2,217.8 L833.7,216.0 L837.7,212.5 Z" fill="#111" stroke="#111" stroke-width="1" stroke-linejoin="round"/>
<circle cx="839.2" cy="216.5" r="1.700" fill="#111"/>
<path d="M839.2,213 V220" stroke="#111" stroke-width="0.900"/>
<path d="M839.2,217.8 L843.2,224.3 A4.3,4.3 0 1 1 835.2,224.3 Z" fill="#111"/>
<circle cx="813.9" cy="215.5" r="1.700" fill="#111"/>
<path d="M813.9,212 V219" stroke="#111" stroke-width="0.900"/>
<path d="M813.9000000000001,216.8 L817.9,223.3 A4.3,4.3 0 1 1 809.9,223.3 Z" fill="#111"/>
<circle cx="830.8" cy="223.9" r="1.700" fill="#111"/>
<path d="M830.8,220.4 V227.4" stroke="#111" stroke-width="0.900"/>
<path d="M830.8000000000001,225.2 L834.8,231.7 A4.3,4.3 0 1 1 826.8,231.7 Z" fill="#111"/>
</svg>
</body></html>
